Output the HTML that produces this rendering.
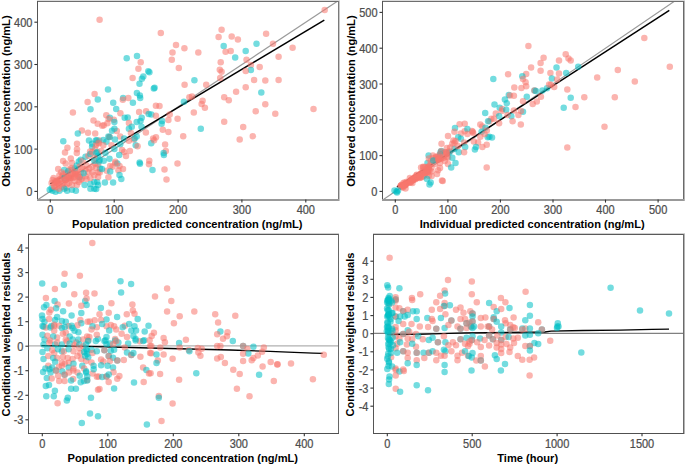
<!DOCTYPE html><html><head><meta charset="utf-8"><style>html,body{margin:0;padding:0;background:#fff;overflow:hidden}svg{display:block}text{font-family:"Liberation Sans",sans-serif}</style></head><body>
<svg width="685" height="464" viewBox="0 0 685 464">
<rect width="685" height="464" fill="#fff"/>
<clipPath id="cp1"><rect x="37.4" y="1.5" width="301.3" height="198.1"/></clipPath>
<g clip-path="url(#cp1)">
<line x1="-13.6" y1="233.7" x2="497.4" y2="-104.7" stroke="#9a9a9a" stroke-width="1.2"/>
<line x1="50.3" y1="183.8" x2="324.3" y2="20.2" stroke="#000" stroke-width="1.5"/>
<circle cx="99.6" cy="19.8" r="3.25" fill="#F8766D" fill-opacity="0.55"/>
<circle cx="126.7" cy="58.2" r="3.25" fill="#00BFC4" fill-opacity="0.55"/>
<circle cx="160.8" cy="32.9" r="3.25" fill="#F8766D" fill-opacity="0.55"/>
<circle cx="176" cy="45" r="3.25" fill="#F8766D" fill-opacity="0.55"/>
<circle cx="184.4" cy="48.3" r="3.25" fill="#F8766D" fill-opacity="0.55"/>
<circle cx="172.5" cy="52.5" r="3.25" fill="#F8766D" fill-opacity="0.55"/>
<circle cx="198.3" cy="52.5" r="3.25" fill="#F8766D" fill-opacity="0.55"/>
<circle cx="171.8" cy="59.7" r="3.25" fill="#F8766D" fill-opacity="0.55"/>
<circle cx="178.8" cy="67.9" r="3.25" fill="#F8766D" fill-opacity="0.55"/>
<circle cx="137" cy="56" r="3.25" fill="#00BFC4" fill-opacity="0.55"/>
<circle cx="140.7" cy="62.2" r="3.25" fill="#F8766D" fill-opacity="0.55"/>
<circle cx="138.4" cy="68.7" r="3.25" fill="#F8766D" fill-opacity="0.55"/>
<circle cx="149.4" cy="72.2" r="3.25" fill="#00BFC4" fill-opacity="0.55"/>
<circle cx="143.3" cy="76.5" r="3.25" fill="#00BFC4" fill-opacity="0.55"/>
<circle cx="132.6" cy="77.9" r="3.25" fill="#F8766D" fill-opacity="0.55"/>
<circle cx="141.9" cy="78.8" r="3.25" fill="#00BFC4" fill-opacity="0.55"/>
<circle cx="194.4" cy="80.2" r="3.25" fill="#00BFC4" fill-opacity="0.55"/>
<circle cx="221.6" cy="29.8" r="3.25" fill="#F8766D" fill-opacity="0.55"/>
<circle cx="218.6" cy="37.1" r="3.25" fill="#F8766D" fill-opacity="0.55"/>
<circle cx="231.7" cy="36.6" r="3.25" fill="#F8766D" fill-opacity="0.55"/>
<circle cx="237.9" cy="39.4" r="3.25" fill="#F8766D" fill-opacity="0.55"/>
<circle cx="223.7" cy="45.9" r="3.25" fill="#00BFC4" fill-opacity="0.55"/>
<circle cx="225.6" cy="51.8" r="3.25" fill="#F8766D" fill-opacity="0.55"/>
<circle cx="230.7" cy="51.1" r="3.25" fill="#F8766D" fill-opacity="0.55"/>
<circle cx="235.2" cy="57.4" r="3.25" fill="#00BFC4" fill-opacity="0.55"/>
<circle cx="220.7" cy="62.2" r="3.25" fill="#F8766D" fill-opacity="0.55"/>
<circle cx="219.8" cy="69.7" r="3.25" fill="#F8766D" fill-opacity="0.55"/>
<circle cx="221.6" cy="71.8" r="3.25" fill="#F8766D" fill-opacity="0.55"/>
<circle cx="220.2" cy="77.9" r="3.25" fill="#F8766D" fill-opacity="0.55"/>
<circle cx="324.7" cy="10" r="3.25" fill="#F8766D" fill-opacity="0.55"/>
<circle cx="266.1" cy="33.7" r="3.25" fill="#F8766D" fill-opacity="0.55"/>
<circle cx="256.5" cy="43.7" r="3.25" fill="#00BFC4" fill-opacity="0.55"/>
<circle cx="273" cy="43.7" r="3.25" fill="#F8766D" fill-opacity="0.55"/>
<circle cx="292.6" cy="47.8" r="3.25" fill="#F8766D" fill-opacity="0.55"/>
<circle cx="245.7" cy="51" r="3.25" fill="#00BFC4" fill-opacity="0.55"/>
<circle cx="246.5" cy="59.7" r="3.25" fill="#F8766D" fill-opacity="0.55"/>
<circle cx="278.6" cy="56.8" r="3.25" fill="#F8766D" fill-opacity="0.55"/>
<circle cx="250.9" cy="65" r="3.25" fill="#F8766D" fill-opacity="0.55"/>
<circle cx="259.7" cy="67.1" r="3.25" fill="#F8766D" fill-opacity="0.55"/>
<circle cx="250.9" cy="70" r="3.25" fill="#00BFC4" fill-opacity="0.55"/>
<circle cx="245.7" cy="70.9" r="3.25" fill="#F8766D" fill-opacity="0.55"/>
<circle cx="254.1" cy="80" r="3.25" fill="#F8766D" fill-opacity="0.55"/>
<circle cx="265.3" cy="80.4" r="3.25" fill="#F8766D" fill-opacity="0.55"/>
<circle cx="278.6" cy="80" r="3.25" fill="#F8766D" fill-opacity="0.55"/>
<circle cx="245.7" cy="87.3" r="3.25" fill="#F8766D" fill-opacity="0.55"/>
<circle cx="236.1" cy="91.7" r="3.25" fill="#F8766D" fill-opacity="0.55"/>
<circle cx="261.3" cy="92.5" r="3.25" fill="#00BFC4" fill-opacity="0.55"/>
<circle cx="265.3" cy="104.2" r="3.25" fill="#F8766D" fill-opacity="0.55"/>
<circle cx="255.7" cy="111.3" r="3.25" fill="#F8766D" fill-opacity="0.55"/>
<circle cx="275.3" cy="113.8" r="3.25" fill="#F8766D" fill-opacity="0.55"/>
<circle cx="313.5" cy="109" r="3.25" fill="#F8766D" fill-opacity="0.55"/>
<circle cx="243.2" cy="127" r="3.25" fill="#F8766D" fill-opacity="0.55"/>
<circle cx="252.8" cy="136.3" r="3.25" fill="#F8766D" fill-opacity="0.55"/>
<circle cx="154.6" cy="87.7" r="3.25" fill="#00BFC4" fill-opacity="0.55"/>
<circle cx="184.6" cy="84.7" r="3.25" fill="#F8766D" fill-opacity="0.55"/>
<circle cx="206.2" cy="84.7" r="3.25" fill="#F8766D" fill-opacity="0.55"/>
<circle cx="224.2" cy="97.3" r="3.25" fill="#F8766D" fill-opacity="0.55"/>
<circle cx="228.8" cy="100.2" r="3.25" fill="#F8766D" fill-opacity="0.55"/>
<circle cx="189.4" cy="97.3" r="3.25" fill="#F8766D" fill-opacity="0.55"/>
<circle cx="192" cy="96.5" r="3.25" fill="#F8766D" fill-opacity="0.55"/>
<circle cx="183.9" cy="101.7" r="3.25" fill="#00BFC4" fill-opacity="0.55"/>
<circle cx="202.6" cy="100.8" r="3.25" fill="#F8766D" fill-opacity="0.55"/>
<circle cx="201.6" cy="104.1" r="3.25" fill="#F8766D" fill-opacity="0.55"/>
<circle cx="204.9" cy="107.8" r="3.25" fill="#F8766D" fill-opacity="0.55"/>
<circle cx="155.9" cy="105.7" r="3.25" fill="#F8766D" fill-opacity="0.55"/>
<circle cx="159.5" cy="106.1" r="3.25" fill="#F8766D" fill-opacity="0.55"/>
<circle cx="193.8" cy="112.6" r="3.25" fill="#F8766D" fill-opacity="0.55"/>
<circle cx="169.7" cy="114.4" r="3.25" fill="#F8766D" fill-opacity="0.55"/>
<circle cx="151.3" cy="114.4" r="3.25" fill="#00BFC4" fill-opacity="0.55"/>
<circle cx="155.9" cy="115.7" r="3.25" fill="#F8766D" fill-opacity="0.55"/>
<circle cx="177.6" cy="118.8" r="3.25" fill="#F8766D" fill-opacity="0.55"/>
<circle cx="168.4" cy="120.1" r="3.25" fill="#F8766D" fill-opacity="0.55"/>
<circle cx="162.1" cy="120.9" r="3.25" fill="#00BFC4" fill-opacity="0.55"/>
<circle cx="161.6" cy="123.8" r="3.25" fill="#00BFC4" fill-opacity="0.55"/>
<circle cx="224.2" cy="121.8" r="3.25" fill="#F8766D" fill-opacity="0.55"/>
<circle cx="139.5" cy="83.7" r="3.25" fill="#00BFC4" fill-opacity="0.55"/>
<circle cx="108" cy="89.6" r="3.25" fill="#00BFC4" fill-opacity="0.55"/>
<circle cx="94.6" cy="93.9" r="3.25" fill="#F8766D" fill-opacity="0.55"/>
<circle cx="97.8" cy="99.4" r="3.25" fill="#00BFC4" fill-opacity="0.55"/>
<circle cx="87.6" cy="102" r="3.25" fill="#F8766D" fill-opacity="0.55"/>
<circle cx="90.5" cy="109.3" r="3.25" fill="#00BFC4" fill-opacity="0.55"/>
<circle cx="72.9" cy="112.6" r="3.25" fill="#F8766D" fill-opacity="0.55"/>
<circle cx="113.2" cy="102.7" r="3.25" fill="#00BFC4" fill-opacity="0.55"/>
<circle cx="123.1" cy="98.1" r="3.25" fill="#00BFC4" fill-opacity="0.55"/>
<circle cx="122.8" cy="99.7" r="3.25" fill="#F8766D" fill-opacity="0.55"/>
<circle cx="128.3" cy="98.1" r="3.25" fill="#F8766D" fill-opacity="0.55"/>
<circle cx="132.9" cy="102.7" r="3.25" fill="#00BFC4" fill-opacity="0.55"/>
<circle cx="136.9" cy="92.9" r="3.25" fill="#00BFC4" fill-opacity="0.55"/>
<circle cx="139.9" cy="95.5" r="3.25" fill="#00BFC4" fill-opacity="0.55"/>
<circle cx="140.2" cy="98.1" r="3.25" fill="#00BFC4" fill-opacity="0.55"/>
<circle cx="116.2" cy="108.9" r="3.25" fill="#00BFC4" fill-opacity="0.55"/>
<circle cx="120.4" cy="113.2" r="3.25" fill="#F8766D" fill-opacity="0.55"/>
<circle cx="139.1" cy="111.9" r="3.25" fill="#F8766D" fill-opacity="0.55"/>
<circle cx="146.1" cy="111.2" r="3.25" fill="#F8766D" fill-opacity="0.55"/>
<circle cx="148.7" cy="113.9" r="3.25" fill="#00BFC4" fill-opacity="0.55"/>
<circle cx="106.3" cy="115.2" r="3.25" fill="#F8766D" fill-opacity="0.55"/>
<circle cx="109.9" cy="117.8" r="3.25" fill="#00BFC4" fill-opacity="0.55"/>
<circle cx="108.6" cy="119.1" r="3.25" fill="#F8766D" fill-opacity="0.55"/>
<circle cx="113.9" cy="119.8" r="3.25" fill="#F8766D" fill-opacity="0.55"/>
<circle cx="124.7" cy="117.8" r="3.25" fill="#00BFC4" fill-opacity="0.55"/>
<circle cx="127.7" cy="117.6" r="3.25" fill="#00BFC4" fill-opacity="0.55"/>
<circle cx="141.7" cy="117.8" r="3.25" fill="#00BFC4" fill-opacity="0.55"/>
<circle cx="93.5" cy="120.4" r="3.25" fill="#F8766D" fill-opacity="0.55"/>
<circle cx="97.7" cy="123.8" r="3.25" fill="#F8766D" fill-opacity="0.55"/>
<circle cx="102.3" cy="125.8" r="3.25" fill="#F8766D" fill-opacity="0.55"/>
<circle cx="103.8" cy="125.3" r="3.25" fill="#F8766D" fill-opacity="0.55"/>
<circle cx="107.4" cy="123.3" r="3.25" fill="#F8766D" fill-opacity="0.55"/>
<circle cx="81.9" cy="130.4" r="3.25" fill="#F8766D" fill-opacity="0.55"/>
<circle cx="77.8" cy="133.5" r="3.25" fill="#00BFC4" fill-opacity="0.55"/>
<circle cx="88" cy="132.7" r="3.25" fill="#F8766D" fill-opacity="0.55"/>
<circle cx="95.2" cy="133.5" r="3.25" fill="#F8766D" fill-opacity="0.55"/>
<circle cx="63.3" cy="141.2" r="3.25" fill="#00BFC4" fill-opacity="0.55"/>
<circle cx="77" cy="143.7" r="3.25" fill="#F8766D" fill-opacity="0.55"/>
<circle cx="67.4" cy="147.8" r="3.25" fill="#F8766D" fill-opacity="0.55"/>
<circle cx="77" cy="149.3" r="3.25" fill="#F8766D" fill-opacity="0.55"/>
<circle cx="65" cy="152.4" r="3.25" fill="#F8766D" fill-opacity="0.55"/>
<circle cx="76.8" cy="152.9" r="3.25" fill="#F8766D" fill-opacity="0.55"/>
<circle cx="89" cy="140.6" r="3.25" fill="#00BFC4" fill-opacity="0.55"/>
<circle cx="92.1" cy="143.7" r="3.25" fill="#00BFC4" fill-opacity="0.55"/>
<circle cx="95.7" cy="140.6" r="3.25" fill="#00BFC4" fill-opacity="0.55"/>
<circle cx="97.7" cy="142.7" r="3.25" fill="#F8766D" fill-opacity="0.55"/>
<circle cx="99.2" cy="140.6" r="3.25" fill="#F8766D" fill-opacity="0.55"/>
<circle cx="103.3" cy="140.1" r="3.25" fill="#00BFC4" fill-opacity="0.55"/>
<circle cx="106.4" cy="141.7" r="3.25" fill="#00BFC4" fill-opacity="0.55"/>
<circle cx="103.3" cy="145.2" r="3.25" fill="#F8766D" fill-opacity="0.55"/>
<circle cx="108.4" cy="136.6" r="3.25" fill="#00BFC4" fill-opacity="0.55"/>
<circle cx="109.5" cy="137.1" r="3.25" fill="#F8766D" fill-opacity="0.55"/>
<circle cx="92.1" cy="146.8" r="3.25" fill="#00BFC4" fill-opacity="0.55"/>
<circle cx="96.2" cy="144.7" r="3.25" fill="#F8766D" fill-opacity="0.55"/>
<circle cx="95.2" cy="148.8" r="3.25" fill="#F8766D" fill-opacity="0.55"/>
<circle cx="90.1" cy="151.4" r="3.25" fill="#F8766D" fill-opacity="0.55"/>
<circle cx="97.2" cy="151.9" r="3.25" fill="#00BFC4" fill-opacity="0.55"/>
<circle cx="101.3" cy="150.9" r="3.25" fill="#F8766D" fill-opacity="0.55"/>
<circle cx="105.4" cy="152.9" r="3.25" fill="#00BFC4" fill-opacity="0.55"/>
<circle cx="63.1" cy="160.9" r="3.25" fill="#F8766D" fill-opacity="0.55"/>
<circle cx="70.8" cy="158.5" r="3.25" fill="#F8766D" fill-opacity="0.55"/>
<circle cx="65.7" cy="163.6" r="3.25" fill="#F8766D" fill-opacity="0.55"/>
<circle cx="72" cy="163.1" r="3.25" fill="#F8766D" fill-opacity="0.55"/>
<circle cx="58.2" cy="168.9" r="3.25" fill="#F8766D" fill-opacity="0.55"/>
<circle cx="64.2" cy="169.9" r="3.25" fill="#00BFC4" fill-opacity="0.55"/>
<circle cx="49.7" cy="189.7" r="3.25" fill="#00BFC4" fill-opacity="0.55"/>
<circle cx="52.6" cy="190.7" r="3.25" fill="#00BFC4" fill-opacity="0.55"/>
<circle cx="55.5" cy="191.7" r="3.25" fill="#00BFC4" fill-opacity="0.55"/>
<circle cx="59.4" cy="190.7" r="3.25" fill="#00BFC4" fill-opacity="0.55"/>
<circle cx="51.6" cy="188.3" r="3.25" fill="#00BFC4" fill-opacity="0.55"/>
<circle cx="54.5" cy="183" r="3.25" fill="#F8766D" fill-opacity="0.55"/>
<circle cx="52.6" cy="180" r="3.25" fill="#F8766D" fill-opacity="0.55"/>
<circle cx="57.4" cy="181" r="3.25" fill="#F8766D" fill-opacity="0.55"/>
<circle cx="59.4" cy="184.9" r="3.25" fill="#F8766D" fill-opacity="0.55"/>
<circle cx="63.3" cy="183" r="3.25" fill="#F8766D" fill-opacity="0.55"/>
<circle cx="62.3" cy="186.8" r="3.25" fill="#F8766D" fill-opacity="0.55"/>
<circle cx="56.5" cy="186.8" r="3.25" fill="#F8766D" fill-opacity="0.55"/>
<circle cx="66.2" cy="187.8" r="3.25" fill="#F8766D" fill-opacity="0.55"/>
<circle cx="67.1" cy="183.9" r="3.25" fill="#F8766D" fill-opacity="0.55"/>
<circle cx="70" cy="179.1" r="3.25" fill="#F8766D" fill-opacity="0.55"/>
<circle cx="72.9" cy="178.1" r="3.25" fill="#F8766D" fill-opacity="0.55"/>
<circle cx="74.9" cy="181" r="3.25" fill="#F8766D" fill-opacity="0.55"/>
<circle cx="69.1" cy="183" r="3.25" fill="#F8766D" fill-opacity="0.55"/>
<circle cx="63.3" cy="174.2" r="3.25" fill="#F8766D" fill-opacity="0.55"/>
<circle cx="66.2" cy="173.3" r="3.25" fill="#F8766D" fill-opacity="0.55"/>
<circle cx="72.9" cy="173.3" r="3.25" fill="#F8766D" fill-opacity="0.55"/>
<circle cx="72" cy="169.4" r="3.25" fill="#F8766D" fill-opacity="0.55"/>
<circle cx="76.8" cy="171.3" r="3.25" fill="#F8766D" fill-opacity="0.55"/>
<circle cx="80.7" cy="172.3" r="3.25" fill="#F8766D" fill-opacity="0.55"/>
<circle cx="82.6" cy="168.4" r="3.25" fill="#F8766D" fill-opacity="0.55"/>
<circle cx="86.5" cy="165.5" r="3.25" fill="#F8766D" fill-opacity="0.55"/>
<circle cx="85.5" cy="169.4" r="3.25" fill="#F8766D" fill-opacity="0.55"/>
<circle cx="89.4" cy="168.4" r="3.25" fill="#F8766D" fill-opacity="0.55"/>
<circle cx="92.3" cy="166.5" r="3.25" fill="#F8766D" fill-opacity="0.55"/>
<circle cx="95.2" cy="163.6" r="3.25" fill="#F8766D" fill-opacity="0.55"/>
<circle cx="98.1" cy="164.5" r="3.25" fill="#F8766D" fill-opacity="0.55"/>
<circle cx="88.4" cy="172.3" r="3.25" fill="#F8766D" fill-opacity="0.55"/>
<circle cx="92.3" cy="172.3" r="3.25" fill="#F8766D" fill-opacity="0.55"/>
<circle cx="85.5" cy="176.2" r="3.25" fill="#F8766D" fill-opacity="0.55"/>
<circle cx="86.5" cy="179.1" r="3.25" fill="#F8766D" fill-opacity="0.55"/>
<circle cx="80.7" cy="180" r="3.25" fill="#F8766D" fill-opacity="0.55"/>
<circle cx="79.7" cy="177.1" r="3.25" fill="#00BFC4" fill-opacity="0.55"/>
<circle cx="81.7" cy="179.1" r="3.25" fill="#F8766D" fill-opacity="0.55"/>
<circle cx="78.8" cy="182" r="3.25" fill="#F8766D" fill-opacity="0.55"/>
<circle cx="76.8" cy="184.9" r="3.25" fill="#F8766D" fill-opacity="0.55"/>
<circle cx="84.6" cy="184.9" r="3.25" fill="#00BFC4" fill-opacity="0.55"/>
<circle cx="90.4" cy="183.9" r="3.25" fill="#00BFC4" fill-opacity="0.55"/>
<circle cx="94.3" cy="182" r="3.25" fill="#00BFC4" fill-opacity="0.55"/>
<circle cx="97.2" cy="182" r="3.25" fill="#00BFC4" fill-opacity="0.55"/>
<circle cx="98.1" cy="184.9" r="3.25" fill="#00BFC4" fill-opacity="0.55"/>
<circle cx="90.4" cy="188.8" r="3.25" fill="#00BFC4" fill-opacity="0.55"/>
<circle cx="94.3" cy="188.8" r="3.25" fill="#00BFC4" fill-opacity="0.55"/>
<circle cx="72" cy="189.7" r="3.25" fill="#00BFC4" fill-opacity="0.55"/>
<circle cx="75.9" cy="190.7" r="3.25" fill="#00BFC4" fill-opacity="0.55"/>
<circle cx="67.1" cy="190.7" r="3.25" fill="#00BFC4" fill-opacity="0.55"/>
<circle cx="64.2" cy="188.8" r="3.25" fill="#00BFC4" fill-opacity="0.55"/>
<circle cx="72" cy="184.9" r="3.25" fill="#F8766D" fill-opacity="0.55"/>
<circle cx="78.8" cy="161.6" r="3.25" fill="#00BFC4" fill-opacity="0.55"/>
<circle cx="80.7" cy="159.7" r="3.25" fill="#00BFC4" fill-opacity="0.55"/>
<circle cx="82.6" cy="160.7" r="3.25" fill="#F8766D" fill-opacity="0.55"/>
<circle cx="85.5" cy="156.8" r="3.25" fill="#00BFC4" fill-opacity="0.55"/>
<circle cx="88.4" cy="155.8" r="3.25" fill="#F8766D" fill-opacity="0.55"/>
<circle cx="90.4" cy="153.9" r="3.25" fill="#00BFC4" fill-opacity="0.55"/>
<circle cx="92.3" cy="151.9" r="3.25" fill="#F8766D" fill-opacity="0.55"/>
<circle cx="96.2" cy="152.9" r="3.25" fill="#00BFC4" fill-opacity="0.55"/>
<circle cx="98.1" cy="155.8" r="3.25" fill="#00BFC4" fill-opacity="0.55"/>
<circle cx="94.3" cy="157.8" r="3.25" fill="#F8766D" fill-opacity="0.55"/>
<circle cx="94.3" cy="160.7" r="3.25" fill="#00BFC4" fill-opacity="0.55"/>
<circle cx="99.1" cy="161.6" r="3.25" fill="#00BFC4" fill-opacity="0.55"/>
<circle cx="76.8" cy="165.5" r="3.25" fill="#00BFC4" fill-opacity="0.55"/>
<circle cx="79.7" cy="166.5" r="3.25" fill="#F8766D" fill-opacity="0.55"/>
<circle cx="74.9" cy="168.4" r="3.25" fill="#00BFC4" fill-opacity="0.55"/>
<circle cx="69.1" cy="169.4" r="3.25" fill="#F8766D" fill-opacity="0.55"/>
<circle cx="68.1" cy="171.3" r="3.25" fill="#00BFC4" fill-opacity="0.55"/>
<circle cx="61.3" cy="172.3" r="3.25" fill="#F8766D" fill-opacity="0.55"/>
<circle cx="62.3" cy="176.2" r="3.25" fill="#F8766D" fill-opacity="0.55"/>
<circle cx="59.4" cy="175.2" r="3.25" fill="#F8766D" fill-opacity="0.55"/>
<circle cx="64.2" cy="178.1" r="3.25" fill="#00BFC4" fill-opacity="0.55"/>
<circle cx="60.3" cy="179.1" r="3.25" fill="#F8766D" fill-opacity="0.55"/>
<circle cx="53.6" cy="178.1" r="3.25" fill="#F8766D" fill-opacity="0.55"/>
<circle cx="51.6" cy="183" r="3.25" fill="#F8766D" fill-opacity="0.55"/>
<circle cx="98.1" cy="172.3" r="3.25" fill="#F8766D" fill-opacity="0.55"/>
<circle cx="98.1" cy="177.1" r="3.25" fill="#F8766D" fill-opacity="0.55"/>
<circle cx="100.1" cy="168.4" r="3.25" fill="#00BFC4" fill-opacity="0.55"/>
<circle cx="90.4" cy="178.1" r="3.25" fill="#F8766D" fill-opacity="0.55"/>
<circle cx="94.3" cy="175.2" r="3.25" fill="#F8766D" fill-opacity="0.55"/>
<circle cx="83.6" cy="173.3" r="3.25" fill="#00BFC4" fill-opacity="0.55"/>
<circle cx="114.4" cy="121.9" r="3.25" fill="#00BFC4" fill-opacity="0.55"/>
<circle cx="128.9" cy="122.9" r="3.25" fill="#F8766D" fill-opacity="0.55"/>
<circle cx="136.7" cy="121.9" r="3.25" fill="#00BFC4" fill-opacity="0.55"/>
<circle cx="140.5" cy="121" r="3.25" fill="#00BFC4" fill-opacity="0.55"/>
<circle cx="131.8" cy="126.8" r="3.25" fill="#00BFC4" fill-opacity="0.55"/>
<circle cx="128.9" cy="128.7" r="3.25" fill="#00BFC4" fill-opacity="0.55"/>
<circle cx="141.5" cy="126.8" r="3.25" fill="#00BFC4" fill-opacity="0.55"/>
<circle cx="112" cy="130.7" r="3.25" fill="#00BFC4" fill-opacity="0.55"/>
<circle cx="116.8" cy="131.1" r="3.25" fill="#F8766D" fill-opacity="0.55"/>
<circle cx="114.4" cy="128.7" r="3.25" fill="#00BFC4" fill-opacity="0.55"/>
<circle cx="130.9" cy="133.1" r="3.25" fill="#F8766D" fill-opacity="0.55"/>
<circle cx="145.9" cy="132.6" r="3.25" fill="#F8766D" fill-opacity="0.55"/>
<circle cx="109.5" cy="137" r="3.25" fill="#00BFC4" fill-opacity="0.55"/>
<circle cx="120.2" cy="136.5" r="3.25" fill="#F8766D" fill-opacity="0.55"/>
<circle cx="114.9" cy="139.4" r="3.25" fill="#00BFC4" fill-opacity="0.55"/>
<circle cx="124.1" cy="138.4" r="3.25" fill="#00BFC4" fill-opacity="0.55"/>
<circle cx="136.7" cy="136.5" r="3.25" fill="#00BFC4" fill-opacity="0.55"/>
<circle cx="133.8" cy="139.4" r="3.25" fill="#F8766D" fill-opacity="0.55"/>
<circle cx="128.9" cy="140.8" r="3.25" fill="#F8766D" fill-opacity="0.55"/>
<circle cx="134.7" cy="138.4" r="3.25" fill="#00BFC4" fill-opacity="0.55"/>
<circle cx="153.1" cy="138.4" r="3.25" fill="#F8766D" fill-opacity="0.55"/>
<circle cx="151.2" cy="143.3" r="3.25" fill="#00BFC4" fill-opacity="0.55"/>
<circle cx="154.1" cy="140.3" r="3.25" fill="#F8766D" fill-opacity="0.55"/>
<circle cx="96.9" cy="140.3" r="3.25" fill="#00BFC4" fill-opacity="0.55"/>
<circle cx="98.9" cy="143.3" r="3.25" fill="#F8766D" fill-opacity="0.55"/>
<circle cx="120.2" cy="144.2" r="3.25" fill="#00BFC4" fill-opacity="0.55"/>
<circle cx="111.5" cy="145.2" r="3.25" fill="#F8766D" fill-opacity="0.55"/>
<circle cx="135.7" cy="145.2" r="3.25" fill="#00BFC4" fill-opacity="0.55"/>
<circle cx="137.6" cy="146.2" r="3.25" fill="#F8766D" fill-opacity="0.55"/>
<circle cx="114.4" cy="149.1" r="3.25" fill="#00BFC4" fill-opacity="0.55"/>
<circle cx="122.1" cy="150" r="3.25" fill="#F8766D" fill-opacity="0.55"/>
<circle cx="124.1" cy="152" r="3.25" fill="#F8766D" fill-opacity="0.55"/>
<circle cx="129.9" cy="151" r="3.25" fill="#F8766D" fill-opacity="0.55"/>
<circle cx="126" cy="155.9" r="3.25" fill="#F8766D" fill-opacity="0.55"/>
<circle cx="119.2" cy="154.9" r="3.25" fill="#00BFC4" fill-opacity="0.55"/>
<circle cx="109.5" cy="158.8" r="3.25" fill="#00BFC4" fill-opacity="0.55"/>
<circle cx="103.7" cy="160.7" r="3.25" fill="#00BFC4" fill-opacity="0.55"/>
<circle cx="139.6" cy="162.6" r="3.25" fill="#00BFC4" fill-opacity="0.55"/>
<circle cx="149.3" cy="160.7" r="3.25" fill="#F8766D" fill-opacity="0.55"/>
<circle cx="115.3" cy="161.7" r="3.25" fill="#F8766D" fill-opacity="0.55"/>
<circle cx="117.3" cy="163.6" r="3.25" fill="#00BFC4" fill-opacity="0.55"/>
<circle cx="99.7" cy="159.7" r="3.25" fill="#00BFC4" fill-opacity="0.55"/>
<circle cx="115.4" cy="163.2" r="3.25" fill="#F8766D" fill-opacity="0.55"/>
<circle cx="112.5" cy="166.7" r="3.25" fill="#F8766D" fill-opacity="0.55"/>
<circle cx="110.2" cy="166.1" r="3.25" fill="#F8766D" fill-opacity="0.55"/>
<circle cx="119.5" cy="166.1" r="3.25" fill="#F8766D" fill-opacity="0.55"/>
<circle cx="123" cy="169" r="3.25" fill="#F8766D" fill-opacity="0.55"/>
<circle cx="118.4" cy="170.2" r="3.25" fill="#F8766D" fill-opacity="0.55"/>
<circle cx="106.7" cy="170.8" r="3.25" fill="#F8766D" fill-opacity="0.55"/>
<circle cx="99.7" cy="172.5" r="3.25" fill="#F8766D" fill-opacity="0.55"/>
<circle cx="96.2" cy="167.8" r="3.25" fill="#F8766D" fill-opacity="0.55"/>
<circle cx="102" cy="169" r="3.25" fill="#00BFC4" fill-opacity="0.55"/>
<circle cx="110.2" cy="171.4" r="3.25" fill="#00BFC4" fill-opacity="0.55"/>
<circle cx="119.5" cy="174.9" r="3.25" fill="#00BFC4" fill-opacity="0.55"/>
<circle cx="108.4" cy="177.2" r="3.25" fill="#F8766D" fill-opacity="0.55"/>
<circle cx="121.3" cy="179" r="3.25" fill="#00BFC4" fill-opacity="0.55"/>
<circle cx="104.9" cy="182.5" r="3.25" fill="#00BFC4" fill-opacity="0.55"/>
<circle cx="113.1" cy="182.5" r="3.25" fill="#00BFC4" fill-opacity="0.55"/>
<circle cx="96.2" cy="188.9" r="3.25" fill="#00BFC4" fill-opacity="0.55"/>
<circle cx="140" cy="163.8" r="3.25" fill="#00BFC4" fill-opacity="0.55"/>
<circle cx="149" cy="164.3" r="3.25" fill="#F8766D" fill-opacity="0.55"/>
<circle cx="152.5" cy="170" r="3.25" fill="#00BFC4" fill-opacity="0.55"/>
<circle cx="164.5" cy="169.6" r="3.25" fill="#F8766D" fill-opacity="0.55"/>
<circle cx="166.5" cy="179.5" r="3.25" fill="#F8766D" fill-opacity="0.55"/>
<circle cx="163.9" cy="155" r="3.25" fill="#00BFC4" fill-opacity="0.55"/>
<circle cx="200.8" cy="128.7" r="3.25" fill="#00BFC4" fill-opacity="0.55"/>
<circle cx="162.8" cy="129.8" r="3.25" fill="#F8766D" fill-opacity="0.55"/>
<circle cx="168.4" cy="132.1" r="3.25" fill="#F8766D" fill-opacity="0.55"/>
<circle cx="183.2" cy="136.3" r="3.25" fill="#F8766D" fill-opacity="0.55"/>
<circle cx="156" cy="137.3" r="3.25" fill="#F8766D" fill-opacity="0.55"/>
<circle cx="239.7" cy="139.6" r="3.25" fill="#F8766D" fill-opacity="0.55"/>
<circle cx="165.1" cy="144.4" r="3.25" fill="#F8766D" fill-opacity="0.55"/>
<circle cx="165.8" cy="150.9" r="3.25" fill="#F8766D" fill-opacity="0.55"/>
<circle cx="163.6" cy="152.9" r="3.25" fill="#00BFC4" fill-opacity="0.55"/>
<circle cx="177.5" cy="163.4" r="3.25" fill="#F8766D" fill-opacity="0.55"/>
<circle cx="69.1" cy="178" r="3.25" fill="#F8766D" fill-opacity="0.55"/>
<circle cx="78.9" cy="177.3" r="3.25" fill="#F8766D" fill-opacity="0.55"/>
<circle cx="71.5" cy="175.7" r="3.25" fill="#F8766D" fill-opacity="0.55"/>
<circle cx="65.3" cy="180.2" r="3.25" fill="#F8766D" fill-opacity="0.55"/>
<circle cx="78.3" cy="176.2" r="3.25" fill="#F8766D" fill-opacity="0.55"/>
<circle cx="59" cy="188.8" r="3.25" fill="#F8766D" fill-opacity="0.55"/>
<circle cx="65.2" cy="179.9" r="3.25" fill="#F8766D" fill-opacity="0.55"/>
<circle cx="66.1" cy="175.7" r="3.25" fill="#F8766D" fill-opacity="0.55"/>
<circle cx="54.1" cy="185.9" r="3.25" fill="#F8766D" fill-opacity="0.55"/>
<circle cx="75" cy="171.9" r="3.25" fill="#F8766D" fill-opacity="0.55"/>
<circle cx="71.1" cy="173.6" r="3.25" fill="#F8766D" fill-opacity="0.55"/>
<circle cx="55.4" cy="181.2" r="3.25" fill="#F8766D" fill-opacity="0.55"/>
<circle cx="68.8" cy="177.8" r="3.25" fill="#F8766D" fill-opacity="0.55"/>
<circle cx="74.9" cy="174.2" r="3.25" fill="#F8766D" fill-opacity="0.55"/>
<circle cx="58.2" cy="182.2" r="3.25" fill="#F8766D" fill-opacity="0.55"/>
<circle cx="71.3" cy="168.1" r="3.25" fill="#F8766D" fill-opacity="0.55"/>
<circle cx="59.4" cy="179.7" r="3.25" fill="#F8766D" fill-opacity="0.55"/>
<circle cx="70.7" cy="177.7" r="3.25" fill="#F8766D" fill-opacity="0.55"/>
<circle cx="57" cy="180.4" r="3.25" fill="#F8766D" fill-opacity="0.55"/>
<circle cx="77.9" cy="174.2" r="3.25" fill="#F8766D" fill-opacity="0.55"/>
<circle cx="75.8" cy="174.6" r="3.25" fill="#F8766D" fill-opacity="0.55"/>
<circle cx="56.8" cy="182.1" r="3.25" fill="#F8766D" fill-opacity="0.55"/>
<circle cx="56.5" cy="182.7" r="3.25" fill="#F8766D" fill-opacity="0.55"/>
<circle cx="68" cy="177.3" r="3.25" fill="#F8766D" fill-opacity="0.55"/>
<circle cx="54.6" cy="187.3" r="3.25" fill="#F8766D" fill-opacity="0.55"/>
<circle cx="62.5" cy="184" r="3.25" fill="#F8766D" fill-opacity="0.55"/>
<circle cx="74.8" cy="177" r="3.25" fill="#F8766D" fill-opacity="0.55"/>
<circle cx="65.4" cy="179.5" r="3.25" fill="#F8766D" fill-opacity="0.55"/>
<circle cx="153.8" cy="88.5" r="3.25" fill="#00BFC4" fill-opacity="0.55"/>
<circle cx="148.3" cy="71.2" r="3.25" fill="#00BFC4" fill-opacity="0.55"/>
</g>
<rect x="37" y="0" width="303" height="1" fill="#dcdcdc" shape-rendering="crispEdges"/>
<rect x="37" y="1" width="302" height="1" fill="#6e6e6e" shape-rendering="crispEdges"/>
<rect x="37" y="1" width="1" height="200" fill="#555" shape-rendering="crispEdges"/>
<rect x="338" y="1" width="1" height="200" fill="#7a7a7a" shape-rendering="crispEdges"/>
<rect x="339" y="1" width="1" height="200" fill="#c8c8c8" shape-rendering="crispEdges"/>
<rect x="37" y="199" width="302" height="2" fill="#999" shape-rendering="crispEdges"/>
<line x1="50.3" y1="199.6" x2="50.3" y2="202.6" stroke="#333" stroke-width="1.1"/>
<text transform="translate(50.3,214) scale(1,1.08)" font-size="11" fill="#4d4d4d" stroke="#4d4d4d" stroke-width="0.22" text-anchor="middle">0</text>
<line x1="114.2" y1="199.6" x2="114.2" y2="202.6" stroke="#333" stroke-width="1.1"/>
<text transform="translate(114.2,214) scale(1,1.08)" font-size="11" fill="#4d4d4d" stroke="#4d4d4d" stroke-width="0.22" text-anchor="middle">100</text>
<line x1="178.1" y1="199.6" x2="178.1" y2="202.6" stroke="#333" stroke-width="1.1"/>
<text transform="translate(178.1,214) scale(1,1.08)" font-size="11" fill="#4d4d4d" stroke="#4d4d4d" stroke-width="0.22" text-anchor="middle">200</text>
<line x1="241.9" y1="199.6" x2="241.9" y2="202.6" stroke="#333" stroke-width="1.1"/>
<text transform="translate(241.9,214) scale(1,1.08)" font-size="11" fill="#4d4d4d" stroke="#4d4d4d" stroke-width="0.22" text-anchor="middle">300</text>
<line x1="305.8" y1="199.6" x2="305.8" y2="202.6" stroke="#333" stroke-width="1.1"/>
<text transform="translate(305.8,214) scale(1,1.08)" font-size="11" fill="#4d4d4d" stroke="#4d4d4d" stroke-width="0.22" text-anchor="middle">400</text>
<line x1="34.4" y1="191.4" x2="37.4" y2="191.4" stroke="#333" stroke-width="1.1"/>
<text transform="translate(32.4,191.4) scale(1,1.08)" y="4.32" font-size="11" fill="#4d4d4d" stroke="#4d4d4d" stroke-width="0.22" text-anchor="end">0</text>
<line x1="34.4" y1="149.1" x2="37.4" y2="149.1" stroke="#333" stroke-width="1.1"/>
<text transform="translate(32.4,149.1) scale(1,1.08)" y="4.32" font-size="11" fill="#4d4d4d" stroke="#4d4d4d" stroke-width="0.22" text-anchor="end">100</text>
<line x1="34.4" y1="106.8" x2="37.4" y2="106.8" stroke="#333" stroke-width="1.1"/>
<text transform="translate(32.4,106.8) scale(1,1.08)" y="4.32" font-size="11" fill="#4d4d4d" stroke="#4d4d4d" stroke-width="0.22" text-anchor="end">200</text>
<line x1="34.4" y1="64.5" x2="37.4" y2="64.5" stroke="#333" stroke-width="1.1"/>
<text transform="translate(32.4,64.5) scale(1,1.08)" y="4.32" font-size="11" fill="#4d4d4d" stroke="#4d4d4d" stroke-width="0.22" text-anchor="end">300</text>
<line x1="34.4" y1="22.2" x2="37.4" y2="22.2" stroke="#333" stroke-width="1.1"/>
<text transform="translate(32.4,22.2) scale(1,1.08)" y="4.32" font-size="11" fill="#4d4d4d" stroke="#4d4d4d" stroke-width="0.22" text-anchor="end">400</text>
<text x="187.3" y="228.4" font-size="11.1" font-weight="bold" fill="#000" text-anchor="middle">Population predicted concentration (ng/mL)</text>
<text transform="translate(10.3,101.1) rotate(-90)" font-size="11.1" font-weight="bold" fill="#000" text-anchor="middle">Observed concentration (ng/mL)</text>
<clipPath id="cp2"><rect x="382.5" y="1.5" width="300.9" height="198.1"/></clipPath>
<g clip-path="url(#cp2)">
<line x1="342.7" y1="227.2" x2="763.2" y2="-59.2" stroke="#9a9a9a" stroke-width="1.2"/>
<line x1="397" y1="186.8" x2="669.3" y2="10.3" stroke="#000" stroke-width="1.5"/>
<circle cx="644.3" cy="38" r="3.25" fill="#F8766D" fill-opacity="0.55"/>
<circle cx="669.8" cy="66.7" r="3.25" fill="#F8766D" fill-opacity="0.55"/>
<circle cx="617.8" cy="70.1" r="3.25" fill="#F8766D" fill-opacity="0.55"/>
<circle cx="634.8" cy="81.4" r="3.25" fill="#F8766D" fill-opacity="0.55"/>
<circle cx="597.2" cy="77.6" r="3.25" fill="#F8766D" fill-opacity="0.55"/>
<circle cx="614.8" cy="97.3" r="3.25" fill="#F8766D" fill-opacity="0.55"/>
<circle cx="584.3" cy="97.3" r="3.25" fill="#F8766D" fill-opacity="0.55"/>
<circle cx="570.7" cy="97.7" r="3.25" fill="#00BFC4" fill-opacity="0.55"/>
<circle cx="567.3" cy="89.4" r="3.25" fill="#F8766D" fill-opacity="0.55"/>
<circle cx="578.2" cy="66.7" r="3.25" fill="#00BFC4" fill-opacity="0.55"/>
<circle cx="566.2" cy="72.9" r="3.25" fill="#00BFC4" fill-opacity="0.55"/>
<circle cx="565.7" cy="54.3" r="3.25" fill="#F8766D" fill-opacity="0.55"/>
<circle cx="568.5" cy="58.4" r="3.25" fill="#F8766D" fill-opacity="0.55"/>
<circle cx="570.7" cy="60.6" r="3.25" fill="#F8766D" fill-opacity="0.55"/>
<circle cx="559" cy="60.6" r="3.25" fill="#F8766D" fill-opacity="0.55"/>
<circle cx="543.6" cy="57.7" r="3.25" fill="#F8766D" fill-opacity="0.55"/>
<circle cx="540.6" cy="62.9" r="3.25" fill="#F8766D" fill-opacity="0.55"/>
<circle cx="531.1" cy="67.4" r="3.25" fill="#F8766D" fill-opacity="0.55"/>
<circle cx="540.6" cy="70.8" r="3.25" fill="#F8766D" fill-opacity="0.55"/>
<circle cx="556.5" cy="67.4" r="3.25" fill="#00BFC4" fill-opacity="0.55"/>
<circle cx="550.4" cy="72.9" r="3.25" fill="#F8766D" fill-opacity="0.55"/>
<circle cx="559" cy="73.5" r="3.25" fill="#F8766D" fill-opacity="0.55"/>
<circle cx="551.9" cy="78.5" r="3.25" fill="#00BFC4" fill-opacity="0.55"/>
<circle cx="557.1" cy="79.6" r="3.25" fill="#F8766D" fill-opacity="0.55"/>
<circle cx="550.8" cy="84.8" r="3.25" fill="#F8766D" fill-opacity="0.55"/>
<circle cx="554.2" cy="87.1" r="3.25" fill="#F8766D" fill-opacity="0.55"/>
<circle cx="547" cy="88.2" r="3.25" fill="#00BFC4" fill-opacity="0.55"/>
<circle cx="542.4" cy="90.5" r="3.25" fill="#00BFC4" fill-opacity="0.55"/>
<circle cx="534.5" cy="90.5" r="3.25" fill="#00BFC4" fill-opacity="0.55"/>
<circle cx="534.5" cy="90.5" r="3.25" fill="#F8766D" fill-opacity="0.55"/>
<circle cx="540.9" cy="96.8" r="3.25" fill="#F8766D" fill-opacity="0.55"/>
<circle cx="536.8" cy="101.4" r="3.25" fill="#F8766D" fill-opacity="0.55"/>
<circle cx="528.4" cy="46.1" r="3.25" fill="#F8766D" fill-opacity="0.55"/>
<circle cx="508.1" cy="74.2" r="3.25" fill="#F8766D" fill-opacity="0.55"/>
<circle cx="493.3" cy="79.1" r="3.25" fill="#00BFC4" fill-opacity="0.55"/>
<circle cx="526.2" cy="73.9" r="3.25" fill="#F8766D" fill-opacity="0.55"/>
<circle cx="522.3" cy="76.3" r="3.25" fill="#00BFC4" fill-opacity="0.55"/>
<circle cx="523" cy="79.1" r="3.25" fill="#F8766D" fill-opacity="0.55"/>
<circle cx="525.6" cy="82.3" r="3.25" fill="#F8766D" fill-opacity="0.55"/>
<circle cx="526.2" cy="86.2" r="3.25" fill="#F8766D" fill-opacity="0.55"/>
<circle cx="521.4" cy="88.1" r="3.25" fill="#F8766D" fill-opacity="0.55"/>
<circle cx="514.3" cy="87.5" r="3.25" fill="#F8766D" fill-opacity="0.55"/>
<circle cx="535.9" cy="91" r="3.25" fill="#00BFC4" fill-opacity="0.55"/>
<circle cx="549.1" cy="84.5" r="3.25" fill="#F8766D" fill-opacity="0.55"/>
<circle cx="508.8" cy="94.9" r="3.25" fill="#00BFC4" fill-opacity="0.55"/>
<circle cx="510" cy="95.5" r="3.25" fill="#F8766D" fill-opacity="0.55"/>
<circle cx="513.9" cy="95.8" r="3.25" fill="#F8766D" fill-opacity="0.55"/>
<circle cx="526.8" cy="96.8" r="3.25" fill="#00BFC4" fill-opacity="0.55"/>
<circle cx="523" cy="101.3" r="3.25" fill="#F8766D" fill-opacity="0.55"/>
<circle cx="532.7" cy="103.9" r="3.25" fill="#F8766D" fill-opacity="0.55"/>
<circle cx="504.9" cy="99.4" r="3.25" fill="#00BFC4" fill-opacity="0.55"/>
<circle cx="506.8" cy="103.3" r="3.25" fill="#00BFC4" fill-opacity="0.55"/>
<circle cx="494.5" cy="104.5" r="3.25" fill="#00BFC4" fill-opacity="0.55"/>
<circle cx="499.7" cy="107.8" r="3.25" fill="#00BFC4" fill-opacity="0.55"/>
<circle cx="502.3" cy="109.1" r="3.25" fill="#F8766D" fill-opacity="0.55"/>
<circle cx="501.7" cy="111" r="3.25" fill="#F8766D" fill-opacity="0.55"/>
<circle cx="506.2" cy="109.7" r="3.25" fill="#00BFC4" fill-opacity="0.55"/>
<circle cx="523" cy="111.7" r="3.25" fill="#00BFC4" fill-opacity="0.55"/>
<circle cx="521" cy="111" r="3.25" fill="#F8766D" fill-opacity="0.55"/>
<circle cx="513.9" cy="110.4" r="3.25" fill="#F8766D" fill-opacity="0.55"/>
<circle cx="518.4" cy="114.9" r="3.25" fill="#F8766D" fill-opacity="0.55"/>
<circle cx="511.3" cy="116.2" r="3.25" fill="#00BFC4" fill-opacity="0.55"/>
<circle cx="507.5" cy="114.9" r="3.25" fill="#F8766D" fill-opacity="0.55"/>
<circle cx="485.2" cy="112.9" r="3.25" fill="#00BFC4" fill-opacity="0.55"/>
<circle cx="495.8" cy="113.6" r="3.25" fill="#F8766D" fill-opacity="0.55"/>
<circle cx="499.1" cy="116.2" r="3.25" fill="#00BFC4" fill-opacity="0.55"/>
<circle cx="491.3" cy="118.8" r="3.25" fill="#F8766D" fill-opacity="0.55"/>
<circle cx="493.9" cy="118.8" r="3.25" fill="#F8766D" fill-opacity="0.55"/>
<circle cx="489.4" cy="121.3" r="3.25" fill="#F8766D" fill-opacity="0.55"/>
<circle cx="488.1" cy="121.3" r="3.25" fill="#00BFC4" fill-opacity="0.55"/>
<circle cx="499.1" cy="123.3" r="3.25" fill="#F8766D" fill-opacity="0.55"/>
<circle cx="512.6" cy="121.3" r="3.25" fill="#F8766D" fill-opacity="0.55"/>
<circle cx="520.8" cy="124.6" r="3.25" fill="#F8766D" fill-opacity="0.55"/>
<circle cx="480.3" cy="124.6" r="3.25" fill="#F8766D" fill-opacity="0.55"/>
<circle cx="482.3" cy="126.5" r="3.25" fill="#F8766D" fill-opacity="0.55"/>
<circle cx="485.5" cy="127.8" r="3.25" fill="#00BFC4" fill-opacity="0.55"/>
<circle cx="486.8" cy="130.4" r="3.25" fill="#F8766D" fill-opacity="0.55"/>
<circle cx="471.9" cy="131" r="3.25" fill="#F8766D" fill-opacity="0.55"/>
<circle cx="473.2" cy="132.9" r="3.25" fill="#F8766D" fill-opacity="0.55"/>
<circle cx="481.6" cy="131.7" r="3.25" fill="#00BFC4" fill-opacity="0.55"/>
<circle cx="489.4" cy="136.8" r="3.25" fill="#00BFC4" fill-opacity="0.55"/>
<circle cx="492" cy="137.5" r="3.25" fill="#00BFC4" fill-opacity="0.55"/>
<circle cx="480.3" cy="136.8" r="3.25" fill="#F8766D" fill-opacity="0.55"/>
<circle cx="563.7" cy="107.8" r="3.25" fill="#00BFC4" fill-opacity="0.55"/>
<circle cx="575.5" cy="107.1" r="3.25" fill="#F8766D" fill-opacity="0.55"/>
<circle cx="604.5" cy="126.7" r="3.25" fill="#F8766D" fill-opacity="0.55"/>
<circle cx="567.3" cy="147.6" r="3.25" fill="#F8766D" fill-opacity="0.55"/>
<circle cx="459.6" cy="124.3" r="3.25" fill="#F8766D" fill-opacity="0.55"/>
<circle cx="464.7" cy="123.8" r="3.25" fill="#F8766D" fill-opacity="0.55"/>
<circle cx="455" cy="128.1" r="3.25" fill="#00BFC4" fill-opacity="0.55"/>
<circle cx="454.4" cy="131.8" r="3.25" fill="#F8766D" fill-opacity="0.55"/>
<circle cx="460.9" cy="133.5" r="3.25" fill="#F8766D" fill-opacity="0.55"/>
<circle cx="464.7" cy="131.3" r="3.25" fill="#F8766D" fill-opacity="0.55"/>
<circle cx="467.4" cy="129.1" r="3.25" fill="#00BFC4" fill-opacity="0.55"/>
<circle cx="467.4" cy="134" r="3.25" fill="#F8766D" fill-opacity="0.55"/>
<circle cx="472.7" cy="131.8" r="3.25" fill="#F8766D" fill-opacity="0.55"/>
<circle cx="448" cy="136.1" r="3.25" fill="#F8766D" fill-opacity="0.55"/>
<circle cx="458.2" cy="137.2" r="3.25" fill="#00BFC4" fill-opacity="0.55"/>
<circle cx="460.9" cy="138.8" r="3.25" fill="#00BFC4" fill-opacity="0.55"/>
<circle cx="455.5" cy="141" r="3.25" fill="#F8766D" fill-opacity="0.55"/>
<circle cx="453.4" cy="140.5" r="3.25" fill="#F8766D" fill-opacity="0.55"/>
<circle cx="452.3" cy="143.7" r="3.25" fill="#F8766D" fill-opacity="0.55"/>
<circle cx="441.5" cy="143.7" r="3.25" fill="#F8766D" fill-opacity="0.55"/>
<circle cx="464.1" cy="142.6" r="3.25" fill="#F8766D" fill-opacity="0.55"/>
<circle cx="465.2" cy="146.9" r="3.25" fill="#00BFC4" fill-opacity="0.55"/>
<circle cx="473.8" cy="141.5" r="3.25" fill="#F8766D" fill-opacity="0.55"/>
<circle cx="478.1" cy="142.6" r="3.25" fill="#F8766D" fill-opacity="0.55"/>
<circle cx="476" cy="146.9" r="3.25" fill="#00BFC4" fill-opacity="0.55"/>
<circle cx="474.9" cy="149.6" r="3.25" fill="#00BFC4" fill-opacity="0.55"/>
<circle cx="482.4" cy="146.9" r="3.25" fill="#F8766D" fill-opacity="0.55"/>
<circle cx="486.7" cy="144.8" r="3.25" fill="#F8766D" fill-opacity="0.55"/>
<circle cx="487.8" cy="137.2" r="3.25" fill="#00BFC4" fill-opacity="0.55"/>
<circle cx="484.6" cy="134" r="3.25" fill="#F8766D" fill-opacity="0.55"/>
<circle cx="449.1" cy="151.2" r="3.25" fill="#F8766D" fill-opacity="0.55"/>
<circle cx="446.9" cy="148" r="3.25" fill="#F8766D" fill-opacity="0.55"/>
<circle cx="454.4" cy="149.1" r="3.25" fill="#00BFC4" fill-opacity="0.55"/>
<circle cx="458.8" cy="152.3" r="3.25" fill="#00BFC4" fill-opacity="0.55"/>
<circle cx="464.1" cy="152.3" r="3.25" fill="#F8766D" fill-opacity="0.55"/>
<circle cx="440.5" cy="152.3" r="3.25" fill="#00BFC4" fill-opacity="0.55"/>
<circle cx="444.8" cy="152.3" r="3.25" fill="#F8766D" fill-opacity="0.55"/>
<circle cx="428.6" cy="155.5" r="3.25" fill="#00BFC4" fill-opacity="0.55"/>
<circle cx="432.9" cy="155.5" r="3.25" fill="#F8766D" fill-opacity="0.55"/>
<circle cx="438.3" cy="156.6" r="3.25" fill="#F8766D" fill-opacity="0.55"/>
<circle cx="441.5" cy="158.8" r="3.25" fill="#F8766D" fill-opacity="0.55"/>
<circle cx="448" cy="157.7" r="3.25" fill="#F8766D" fill-opacity="0.55"/>
<circle cx="452.3" cy="157.7" r="3.25" fill="#00BFC4" fill-opacity="0.55"/>
<circle cx="444.8" cy="160.9" r="3.25" fill="#F8766D" fill-opacity="0.55"/>
<circle cx="455.5" cy="163.1" r="3.25" fill="#00BFC4" fill-opacity="0.55"/>
<circle cx="448" cy="164.1" r="3.25" fill="#F8766D" fill-opacity="0.55"/>
<circle cx="451.2" cy="167.4" r="3.25" fill="#00BFC4" fill-opacity="0.55"/>
<circle cx="428.6" cy="167.4" r="3.25" fill="#F8766D" fill-opacity="0.55"/>
<circle cx="427.5" cy="163.1" r="3.25" fill="#00BFC4" fill-opacity="0.55"/>
<circle cx="435.1" cy="164.1" r="3.25" fill="#F8766D" fill-opacity="0.55"/>
<circle cx="432.9" cy="160.9" r="3.25" fill="#F8766D" fill-opacity="0.55"/>
<circle cx="430.8" cy="160.9" r="3.25" fill="#F8766D" fill-opacity="0.55"/>
<circle cx="423.2" cy="167.4" r="3.25" fill="#F8766D" fill-opacity="0.55"/>
<circle cx="421.1" cy="167.4" r="3.25" fill="#F8766D" fill-opacity="0.55"/>
<circle cx="486.7" cy="167.4" r="3.25" fill="#F8766D" fill-opacity="0.55"/>
<circle cx="410.6" cy="182.5" r="3.25" fill="#F8766D" fill-opacity="0.55"/>
<circle cx="403" cy="187.5" r="3.25" fill="#F8766D" fill-opacity="0.55"/>
<circle cx="416.5" cy="177.3" r="3.25" fill="#F8766D" fill-opacity="0.55"/>
<circle cx="415.9" cy="178.4" r="3.25" fill="#F8766D" fill-opacity="0.55"/>
<circle cx="400.9" cy="186.4" r="3.25" fill="#F8766D" fill-opacity="0.55"/>
<circle cx="402.9" cy="186" r="3.25" fill="#F8766D" fill-opacity="0.55"/>
<circle cx="413.3" cy="179.9" r="3.25" fill="#F8766D" fill-opacity="0.55"/>
<circle cx="406.6" cy="182.9" r="3.25" fill="#F8766D" fill-opacity="0.55"/>
<circle cx="420.3" cy="177.3" r="3.25" fill="#F8766D" fill-opacity="0.55"/>
<circle cx="412" cy="179.7" r="3.25" fill="#F8766D" fill-opacity="0.55"/>
<circle cx="431.5" cy="171.6" r="3.25" fill="#F8766D" fill-opacity="0.55"/>
<circle cx="409.4" cy="182.8" r="3.25" fill="#F8766D" fill-opacity="0.55"/>
<circle cx="404.9" cy="185.5" r="3.25" fill="#F8766D" fill-opacity="0.55"/>
<circle cx="425.7" cy="173" r="3.25" fill="#F8766D" fill-opacity="0.55"/>
<circle cx="404.8" cy="182.8" r="3.25" fill="#F8766D" fill-opacity="0.55"/>
<circle cx="411.1" cy="179.8" r="3.25" fill="#F8766D" fill-opacity="0.55"/>
<circle cx="417.2" cy="177.7" r="3.25" fill="#F8766D" fill-opacity="0.55"/>
<circle cx="406.5" cy="183.8" r="3.25" fill="#F8766D" fill-opacity="0.55"/>
<circle cx="420.6" cy="174" r="3.25" fill="#F8766D" fill-opacity="0.55"/>
<circle cx="418.4" cy="177.1" r="3.25" fill="#F8766D" fill-opacity="0.55"/>
<circle cx="413.7" cy="178.5" r="3.25" fill="#F8766D" fill-opacity="0.55"/>
<circle cx="422.8" cy="176.5" r="3.25" fill="#F8766D" fill-opacity="0.55"/>
<circle cx="406.8" cy="181.8" r="3.25" fill="#F8766D" fill-opacity="0.55"/>
<circle cx="426.8" cy="170.7" r="3.25" fill="#F8766D" fill-opacity="0.55"/>
<circle cx="422.2" cy="173.3" r="3.25" fill="#F8766D" fill-opacity="0.55"/>
<circle cx="405.5" cy="188.4" r="3.25" fill="#F8766D" fill-opacity="0.55"/>
<circle cx="413" cy="179.8" r="3.25" fill="#F8766D" fill-opacity="0.55"/>
<circle cx="414.8" cy="177.8" r="3.25" fill="#F8766D" fill-opacity="0.55"/>
<circle cx="400.7" cy="185.8" r="3.25" fill="#F8766D" fill-opacity="0.55"/>
<circle cx="416.8" cy="175.2" r="3.25" fill="#F8766D" fill-opacity="0.55"/>
<circle cx="426.7" cy="170.6" r="3.25" fill="#F8766D" fill-opacity="0.55"/>
<circle cx="419.4" cy="178.1" r="3.25" fill="#F8766D" fill-opacity="0.55"/>
<circle cx="416.7" cy="174.7" r="3.25" fill="#F8766D" fill-opacity="0.55"/>
<circle cx="429.6" cy="170.6" r="3.25" fill="#F8766D" fill-opacity="0.55"/>
<circle cx="414.6" cy="178.5" r="3.25" fill="#F8766D" fill-opacity="0.55"/>
<circle cx="421.5" cy="174.2" r="3.25" fill="#F8766D" fill-opacity="0.55"/>
<circle cx="421.3" cy="177.6" r="3.25" fill="#F8766D" fill-opacity="0.55"/>
<circle cx="408.8" cy="182.1" r="3.25" fill="#F8766D" fill-opacity="0.55"/>
<circle cx="411.9" cy="180.2" r="3.25" fill="#F8766D" fill-opacity="0.55"/>
<circle cx="414.2" cy="178.8" r="3.25" fill="#F8766D" fill-opacity="0.55"/>
<circle cx="405.4" cy="184.7" r="3.25" fill="#F8766D" fill-opacity="0.55"/>
<circle cx="424" cy="173.5" r="3.25" fill="#F8766D" fill-opacity="0.55"/>
<circle cx="404" cy="185.1" r="3.25" fill="#F8766D" fill-opacity="0.55"/>
<circle cx="427.7" cy="172.5" r="3.25" fill="#F8766D" fill-opacity="0.55"/>
<circle cx="401.7" cy="184.7" r="3.25" fill="#F8766D" fill-opacity="0.55"/>
<circle cx="427.6" cy="171.6" r="3.25" fill="#F8766D" fill-opacity="0.55"/>
<circle cx="425.8" cy="172.9" r="3.25" fill="#F8766D" fill-opacity="0.55"/>
<circle cx="412.5" cy="179.1" r="3.25" fill="#F8766D" fill-opacity="0.55"/>
<circle cx="412.4" cy="183" r="3.25" fill="#F8766D" fill-opacity="0.55"/>
<circle cx="403.6" cy="182.8" r="3.25" fill="#F8766D" fill-opacity="0.55"/>
<circle cx="405.5" cy="184.3" r="3.25" fill="#F8766D" fill-opacity="0.55"/>
<circle cx="415.5" cy="179.3" r="3.25" fill="#F8766D" fill-opacity="0.55"/>
<circle cx="418.3" cy="176.6" r="3.25" fill="#F8766D" fill-opacity="0.55"/>
<circle cx="413" cy="179.9" r="3.25" fill="#F8766D" fill-opacity="0.55"/>
<circle cx="409.9" cy="178.1" r="3.25" fill="#F8766D" fill-opacity="0.55"/>
<circle cx="420.7" cy="173.6" r="3.25" fill="#F8766D" fill-opacity="0.55"/>
<circle cx="415.2" cy="176.7" r="3.25" fill="#F8766D" fill-opacity="0.55"/>
<circle cx="401" cy="185.4" r="3.25" fill="#F8766D" fill-opacity="0.55"/>
<circle cx="428.1" cy="171.3" r="3.25" fill="#F8766D" fill-opacity="0.55"/>
<circle cx="423.4" cy="170.5" r="3.25" fill="#F8766D" fill-opacity="0.55"/>
<circle cx="411.9" cy="179.8" r="3.25" fill="#F8766D" fill-opacity="0.55"/>
<circle cx="419.8" cy="176.1" r="3.25" fill="#F8766D" fill-opacity="0.55"/>
<circle cx="402.3" cy="187" r="3.25" fill="#F8766D" fill-opacity="0.55"/>
<circle cx="405.2" cy="184.8" r="3.25" fill="#F8766D" fill-opacity="0.55"/>
<circle cx="410.6" cy="181.2" r="3.25" fill="#F8766D" fill-opacity="0.55"/>
<circle cx="404.7" cy="184.7" r="3.25" fill="#F8766D" fill-opacity="0.55"/>
<circle cx="403" cy="185.5" r="3.25" fill="#F8766D" fill-opacity="0.55"/>
<circle cx="427.2" cy="171.5" r="3.25" fill="#F8766D" fill-opacity="0.55"/>
<circle cx="419.3" cy="176.6" r="3.25" fill="#F8766D" fill-opacity="0.55"/>
<circle cx="411.2" cy="181.8" r="3.25" fill="#F8766D" fill-opacity="0.55"/>
<circle cx="427.3" cy="167.2" r="3.25" fill="#F8766D" fill-opacity="0.55"/>
<circle cx="431.6" cy="175.9" r="3.25" fill="#F8766D" fill-opacity="0.55"/>
<circle cx="428.2" cy="170.8" r="3.25" fill="#F8766D" fill-opacity="0.55"/>
<circle cx="424.8" cy="167" r="3.25" fill="#F8766D" fill-opacity="0.55"/>
<circle cx="427.1" cy="168.6" r="3.25" fill="#F8766D" fill-opacity="0.55"/>
<circle cx="431.5" cy="167.6" r="3.25" fill="#F8766D" fill-opacity="0.55"/>
<circle cx="424.2" cy="175.5" r="3.25" fill="#F8766D" fill-opacity="0.55"/>
<circle cx="428.8" cy="167.5" r="3.25" fill="#F8766D" fill-opacity="0.55"/>
<circle cx="428.9" cy="166.3" r="3.25" fill="#F8766D" fill-opacity="0.55"/>
<circle cx="428.8" cy="175.8" r="3.25" fill="#F8766D" fill-opacity="0.55"/>
<circle cx="394.5" cy="190.5" r="3.25" fill="#00BFC4" fill-opacity="0.55"/>
<circle cx="396.5" cy="191.5" r="3.25" fill="#00BFC4" fill-opacity="0.55"/>
<circle cx="398" cy="190.5" r="3.25" fill="#00BFC4" fill-opacity="0.55"/>
<circle cx="397" cy="192.5" r="3.25" fill="#00BFC4" fill-opacity="0.55"/>
<circle cx="427" cy="179" r="3.25" fill="#00BFC4" fill-opacity="0.55"/>
<circle cx="430.7" cy="182.6" r="3.25" fill="#00BFC4" fill-opacity="0.55"/>
<circle cx="429.5" cy="184.5" r="3.25" fill="#00BFC4" fill-opacity="0.55"/>
<circle cx="423.2" cy="166.8" r="3.25" fill="#F8766D" fill-opacity="0.55"/>
<circle cx="442.7" cy="181" r="3.25" fill="#F8766D" fill-opacity="0.55"/>
<circle cx="438.1" cy="170.3" r="3.25" fill="#F8766D" fill-opacity="0.55"/>
<circle cx="437" cy="174" r="3.25" fill="#F8766D" fill-opacity="0.55"/>
<circle cx="440" cy="168" r="3.25" fill="#F8766D" fill-opacity="0.55"/>
<circle cx="442" cy="180.4" r="3.25" fill="#F8766D" fill-opacity="0.55"/>
<circle cx="437" cy="160" r="3.25" fill="#F8766D" fill-opacity="0.55"/>
<circle cx="441" cy="158" r="3.25" fill="#F8766D" fill-opacity="0.55"/>
<circle cx="440" cy="163" r="3.25" fill="#F8766D" fill-opacity="0.55"/>
<circle cx="433" cy="158" r="3.25" fill="#F8766D" fill-opacity="0.55"/>
<circle cx="446.8" cy="154.1" r="3.25" fill="#F8766D" fill-opacity="0.55"/>
<circle cx="449.4" cy="152.4" r="3.25" fill="#00BFC4" fill-opacity="0.55"/>
<circle cx="454.5" cy="143.1" r="3.25" fill="#F8766D" fill-opacity="0.55"/>
<circle cx="441.3" cy="151.1" r="3.25" fill="#00BFC4" fill-opacity="0.55"/>
<circle cx="446.9" cy="156.8" r="3.25" fill="#F8766D" fill-opacity="0.55"/>
<circle cx="436" cy="156.7" r="3.25" fill="#F8766D" fill-opacity="0.55"/>
<circle cx="441.2" cy="151.3" r="3.25" fill="#F8766D" fill-opacity="0.55"/>
<circle cx="440.2" cy="154.4" r="3.25" fill="#00BFC4" fill-opacity="0.55"/>
<circle cx="457.7" cy="146.1" r="3.25" fill="#F8766D" fill-opacity="0.55"/>
<circle cx="430.4" cy="164.6" r="3.25" fill="#F8766D" fill-opacity="0.55"/>
<circle cx="435.9" cy="157.6" r="3.25" fill="#F8766D" fill-opacity="0.55"/>
<circle cx="428.9" cy="158.5" r="3.25" fill="#F8766D" fill-opacity="0.55"/>
<circle cx="435.3" cy="159.4" r="3.25" fill="#F8766D" fill-opacity="0.55"/>
<circle cx="437" cy="157.8" r="3.25" fill="#F8766D" fill-opacity="0.55"/>
<circle cx="433.3" cy="160.4" r="3.25" fill="#00BFC4" fill-opacity="0.55"/>
<circle cx="450.2" cy="147.5" r="3.25" fill="#F8766D" fill-opacity="0.55"/>
<circle cx="439.7" cy="154.5" r="3.25" fill="#F8766D" fill-opacity="0.55"/>
<circle cx="438.9" cy="158.9" r="3.25" fill="#F8766D" fill-opacity="0.55"/>
<circle cx="438.7" cy="159.4" r="3.25" fill="#F8766D" fill-opacity="0.55"/>
<circle cx="446.5" cy="153.7" r="3.25" fill="#F8766D" fill-opacity="0.55"/>
<circle cx="440.2" cy="157" r="3.25" fill="#F8766D" fill-opacity="0.55"/>
<circle cx="443.8" cy="157.7" r="3.25" fill="#F8766D" fill-opacity="0.55"/>
<circle cx="446.3" cy="152.7" r="3.25" fill="#F8766D" fill-opacity="0.55"/>
<circle cx="438.2" cy="159.5" r="3.25" fill="#F8766D" fill-opacity="0.55"/>
<circle cx="446.4" cy="152.2" r="3.25" fill="#F8766D" fill-opacity="0.55"/>
</g>
<rect x="382" y="0" width="303" height="1" fill="#dcdcdc" shape-rendering="crispEdges"/>
<rect x="382" y="1" width="303" height="1" fill="#6e6e6e" shape-rendering="crispEdges"/>
<rect x="382" y="1" width="1" height="200" fill="#555" shape-rendering="crispEdges"/>
<rect x="683" y="1" width="1" height="200" fill="#6a6a6a" shape-rendering="crispEdges"/>
<rect x="684" y="1" width="1" height="200" fill="#b4b4b4" shape-rendering="crispEdges"/>
<rect x="382" y="199" width="302" height="2" fill="#999" shape-rendering="crispEdges"/>
<line x1="395.3" y1="199.6" x2="395.3" y2="202.6" stroke="#333" stroke-width="1.1"/>
<text transform="translate(395.3,214) scale(1,1.08)" font-size="11" fill="#4d4d4d" stroke="#4d4d4d" stroke-width="0.22" text-anchor="middle">0</text>
<line x1="447.9" y1="199.6" x2="447.9" y2="202.6" stroke="#333" stroke-width="1.1"/>
<text transform="translate(447.9,214) scale(1,1.08)" font-size="11" fill="#4d4d4d" stroke="#4d4d4d" stroke-width="0.22" text-anchor="middle">100</text>
<line x1="500.4" y1="199.6" x2="500.4" y2="202.6" stroke="#333" stroke-width="1.1"/>
<text transform="translate(500.4,214) scale(1,1.08)" font-size="11" fill="#4d4d4d" stroke="#4d4d4d" stroke-width="0.22" text-anchor="middle">200</text>
<line x1="553" y1="199.6" x2="553" y2="202.6" stroke="#333" stroke-width="1.1"/>
<text transform="translate(553,214) scale(1,1.08)" font-size="11" fill="#4d4d4d" stroke="#4d4d4d" stroke-width="0.22" text-anchor="middle">300</text>
<line x1="605.5" y1="199.6" x2="605.5" y2="202.6" stroke="#333" stroke-width="1.1"/>
<text transform="translate(605.5,214) scale(1,1.08)" font-size="11" fill="#4d4d4d" stroke="#4d4d4d" stroke-width="0.22" text-anchor="middle">400</text>
<line x1="658.1" y1="199.6" x2="658.1" y2="202.6" stroke="#333" stroke-width="1.1"/>
<text transform="translate(658.1,214) scale(1,1.08)" font-size="11" fill="#4d4d4d" stroke="#4d4d4d" stroke-width="0.22" text-anchor="middle">500</text>
<line x1="379.5" y1="191.4" x2="382.5" y2="191.4" stroke="#333" stroke-width="1.1"/>
<text transform="translate(377.5,191.4) scale(1,1.08)" y="4.32" font-size="11" fill="#4d4d4d" stroke="#4d4d4d" stroke-width="0.22" text-anchor="end">0</text>
<line x1="379.5" y1="155.6" x2="382.5" y2="155.6" stroke="#333" stroke-width="1.1"/>
<text transform="translate(377.5,155.6) scale(1,1.08)" y="4.32" font-size="11" fill="#4d4d4d" stroke="#4d4d4d" stroke-width="0.22" text-anchor="end">100</text>
<line x1="379.5" y1="119.8" x2="382.5" y2="119.8" stroke="#333" stroke-width="1.1"/>
<text transform="translate(377.5,119.8) scale(1,1.08)" y="4.32" font-size="11" fill="#4d4d4d" stroke="#4d4d4d" stroke-width="0.22" text-anchor="end">200</text>
<line x1="379.5" y1="84" x2="382.5" y2="84" stroke="#333" stroke-width="1.1"/>
<text transform="translate(377.5,84) scale(1,1.08)" y="4.32" font-size="11" fill="#4d4d4d" stroke="#4d4d4d" stroke-width="0.22" text-anchor="end">300</text>
<line x1="379.5" y1="48.2" x2="382.5" y2="48.2" stroke="#333" stroke-width="1.1"/>
<text transform="translate(377.5,48.2) scale(1,1.08)" y="4.32" font-size="11" fill="#4d4d4d" stroke="#4d4d4d" stroke-width="0.22" text-anchor="end">400</text>
<line x1="379.5" y1="12.4" x2="382.5" y2="12.4" stroke="#333" stroke-width="1.1"/>
<text transform="translate(377.5,12.4) scale(1,1.08)" y="4.32" font-size="11" fill="#4d4d4d" stroke="#4d4d4d" stroke-width="0.22" text-anchor="end">500</text>
<text x="532.2" y="228.4" font-size="11.1" font-weight="bold" fill="#000" text-anchor="middle">Individual predicted concentration (ng/mL)</text>
<text transform="translate(354.7,101.1) rotate(-90)" font-size="11.1" font-weight="bold" fill="#000" text-anchor="middle">Observed concentration (ng/mL)</text>
<clipPath id="cp3"><rect x="28.4" y="234.3" width="310.2" height="198.9"/></clipPath>
<g clip-path="url(#cp3)">
<line x1="28.4" y1="345.9" x2="338.6" y2="345.9" stroke="#b0b0b0" stroke-width="1.1"/>
<polyline points="41.4,345.6 85,346.4 150,348 230,350 270,351.3 288,352.2 313,353.2 322.6,353.4" fill="none" stroke="#000" stroke-width="1.3"/>
<circle cx="92.3" cy="243" r="3.25" fill="#F8766D" fill-opacity="0.55"/>
<circle cx="64.6" cy="273.8" r="3.25" fill="#F8766D" fill-opacity="0.55"/>
<circle cx="79.9" cy="275.7" r="3.25" fill="#F8766D" fill-opacity="0.55"/>
<circle cx="42.2" cy="283.4" r="3.25" fill="#00BFC4" fill-opacity="0.55"/>
<circle cx="63.9" cy="284.8" r="3.25" fill="#00BFC4" fill-opacity="0.55"/>
<circle cx="54.9" cy="288.9" r="3.25" fill="#F8766D" fill-opacity="0.55"/>
<circle cx="86.1" cy="292.8" r="3.25" fill="#F8766D" fill-opacity="0.55"/>
<circle cx="94.5" cy="293.4" r="3.25" fill="#F8766D" fill-opacity="0.55"/>
<circle cx="74.3" cy="294.3" r="3.25" fill="#F8766D" fill-opacity="0.55"/>
<circle cx="45.9" cy="298.1" r="3.25" fill="#F8766D" fill-opacity="0.55"/>
<circle cx="54.6" cy="301" r="3.25" fill="#00BFC4" fill-opacity="0.55"/>
<circle cx="57.6" cy="304.4" r="3.25" fill="#F8766D" fill-opacity="0.55"/>
<circle cx="68.9" cy="303.6" r="3.25" fill="#F8766D" fill-opacity="0.55"/>
<circle cx="46.4" cy="304.9" r="3.25" fill="#00BFC4" fill-opacity="0.55"/>
<circle cx="44" cy="307.3" r="3.25" fill="#00BFC4" fill-opacity="0.55"/>
<circle cx="56.1" cy="308.3" r="3.25" fill="#00BFC4" fill-opacity="0.55"/>
<circle cx="50.8" cy="309.7" r="3.25" fill="#F8766D" fill-opacity="0.55"/>
<circle cx="49.3" cy="312.6" r="3.25" fill="#F8766D" fill-opacity="0.55"/>
<circle cx="63.1" cy="311.2" r="3.25" fill="#00BFC4" fill-opacity="0.55"/>
<circle cx="85.2" cy="301" r="3.25" fill="#00BFC4" fill-opacity="0.55"/>
<circle cx="86.6" cy="298.6" r="3.25" fill="#F8766D" fill-opacity="0.55"/>
<circle cx="86.6" cy="304.9" r="3.25" fill="#00BFC4" fill-opacity="0.55"/>
<circle cx="81.3" cy="305.8" r="3.25" fill="#F8766D" fill-opacity="0.55"/>
<circle cx="81.3" cy="313.1" r="3.25" fill="#00BFC4" fill-opacity="0.55"/>
<circle cx="71.6" cy="315.5" r="3.25" fill="#00BFC4" fill-opacity="0.55"/>
<circle cx="42" cy="315.5" r="3.25" fill="#00BFC4" fill-opacity="0.55"/>
<circle cx="42.5" cy="318.9" r="3.25" fill="#00BFC4" fill-opacity="0.55"/>
<circle cx="44.5" cy="321.8" r="3.25" fill="#00BFC4" fill-opacity="0.55"/>
<circle cx="49.1" cy="318.9" r="3.25" fill="#F8766D" fill-opacity="0.55"/>
<circle cx="57.1" cy="317" r="3.25" fill="#00BFC4" fill-opacity="0.55"/>
<circle cx="55.1" cy="319.9" r="3.25" fill="#00BFC4" fill-opacity="0.55"/>
<circle cx="61.9" cy="320.9" r="3.25" fill="#00BFC4" fill-opacity="0.55"/>
<circle cx="65.8" cy="321.8" r="3.25" fill="#00BFC4" fill-opacity="0.55"/>
<circle cx="80.3" cy="319.9" r="3.25" fill="#F8766D" fill-opacity="0.55"/>
<circle cx="81.3" cy="323.3" r="3.25" fill="#00BFC4" fill-opacity="0.55"/>
<circle cx="77.4" cy="325.2" r="3.25" fill="#F8766D" fill-opacity="0.55"/>
<circle cx="54.2" cy="324.7" r="3.25" fill="#F8766D" fill-opacity="0.55"/>
<circle cx="59" cy="325.7" r="3.25" fill="#F8766D" fill-opacity="0.55"/>
<circle cx="68.7" cy="326.2" r="3.25" fill="#F8766D" fill-opacity="0.55"/>
<circle cx="71.6" cy="325.7" r="3.25" fill="#00BFC4" fill-opacity="0.55"/>
<circle cx="43.5" cy="326.7" r="3.25" fill="#00BFC4" fill-opacity="0.55"/>
<circle cx="45.9" cy="327.6" r="3.25" fill="#F8766D" fill-opacity="0.55"/>
<circle cx="50.3" cy="327.6" r="3.25" fill="#00BFC4" fill-opacity="0.55"/>
<circle cx="61.9" cy="328.1" r="3.25" fill="#00BFC4" fill-opacity="0.55"/>
<circle cx="87.6" cy="321.8" r="3.25" fill="#F8766D" fill-opacity="0.55"/>
<circle cx="120.5" cy="281.2" r="3.25" fill="#00BFC4" fill-opacity="0.55"/>
<circle cx="131.1" cy="284.1" r="3.25" fill="#00BFC4" fill-opacity="0.55"/>
<circle cx="121.1" cy="292.5" r="3.25" fill="#00BFC4" fill-opacity="0.55"/>
<circle cx="111.4" cy="303.2" r="3.25" fill="#F8766D" fill-opacity="0.55"/>
<circle cx="132.4" cy="304.5" r="3.25" fill="#F8766D" fill-opacity="0.55"/>
<circle cx="155" cy="296.4" r="3.25" fill="#F8766D" fill-opacity="0.55"/>
<circle cx="100.9" cy="307.9" r="3.25" fill="#00BFC4" fill-opacity="0.55"/>
<circle cx="108.7" cy="312.8" r="3.25" fill="#F8766D" fill-opacity="0.55"/>
<circle cx="99.5" cy="314.2" r="3.25" fill="#F8766D" fill-opacity="0.55"/>
<circle cx="126.8" cy="314.2" r="3.25" fill="#F8766D" fill-opacity="0.55"/>
<circle cx="132.9" cy="310.6" r="3.25" fill="#F8766D" fill-opacity="0.55"/>
<circle cx="134.5" cy="313.8" r="3.25" fill="#F8766D" fill-opacity="0.55"/>
<circle cx="117.1" cy="317.1" r="3.25" fill="#00BFC4" fill-opacity="0.55"/>
<circle cx="137.7" cy="318.9" r="3.25" fill="#00BFC4" fill-opacity="0.55"/>
<circle cx="106.5" cy="319.5" r="3.25" fill="#00BFC4" fill-opacity="0.55"/>
<circle cx="94.7" cy="320.3" r="3.25" fill="#F8766D" fill-opacity="0.55"/>
<circle cx="89.8" cy="321.4" r="3.25" fill="#F8766D" fill-opacity="0.55"/>
<circle cx="101.1" cy="320" r="3.25" fill="#F8766D" fill-opacity="0.55"/>
<circle cx="110.8" cy="325.1" r="3.25" fill="#F8766D" fill-opacity="0.55"/>
<circle cx="114.1" cy="326.2" r="3.25" fill="#F8766D" fill-opacity="0.55"/>
<circle cx="116.2" cy="329.4" r="3.25" fill="#F8766D" fill-opacity="0.55"/>
<circle cx="106.5" cy="326.2" r="3.25" fill="#F8766D" fill-opacity="0.55"/>
<circle cx="96.8" cy="327.3" r="3.25" fill="#F8766D" fill-opacity="0.55"/>
<circle cx="92.5" cy="326.2" r="3.25" fill="#00BFC4" fill-opacity="0.55"/>
<circle cx="91.5" cy="329.4" r="3.25" fill="#F8766D" fill-opacity="0.55"/>
<circle cx="109.2" cy="330.5" r="3.25" fill="#00BFC4" fill-opacity="0.55"/>
<circle cx="102.2" cy="324.1" r="3.25" fill="#00BFC4" fill-opacity="0.55"/>
<circle cx="124.8" cy="325.7" r="3.25" fill="#F8766D" fill-opacity="0.55"/>
<circle cx="122.7" cy="327.3" r="3.25" fill="#00BFC4" fill-opacity="0.55"/>
<circle cx="129.1" cy="324.1" r="3.25" fill="#00BFC4" fill-opacity="0.55"/>
<circle cx="134.5" cy="326.2" r="3.25" fill="#00BFC4" fill-opacity="0.55"/>
<circle cx="131.3" cy="330.5" r="3.25" fill="#00BFC4" fill-opacity="0.55"/>
<circle cx="136.1" cy="330.5" r="3.25" fill="#00BFC4" fill-opacity="0.55"/>
<circle cx="148.5" cy="325.7" r="3.25" fill="#00BFC4" fill-opacity="0.55"/>
<circle cx="144.7" cy="331.6" r="3.25" fill="#00BFC4" fill-opacity="0.55"/>
<circle cx="121.6" cy="333.8" r="3.25" fill="#F8766D" fill-opacity="0.55"/>
<circle cx="127" cy="337" r="3.25" fill="#F8766D" fill-opacity="0.55"/>
<circle cx="133.4" cy="335.9" r="3.25" fill="#00BFC4" fill-opacity="0.55"/>
<circle cx="135.6" cy="339.1" r="3.25" fill="#00BFC4" fill-opacity="0.55"/>
<circle cx="115.1" cy="339.1" r="3.25" fill="#F8766D" fill-opacity="0.55"/>
<circle cx="106.5" cy="337" r="3.25" fill="#00BFC4" fill-opacity="0.55"/>
<circle cx="105.5" cy="340.2" r="3.25" fill="#00BFC4" fill-opacity="0.55"/>
<circle cx="97.9" cy="339.1" r="3.25" fill="#00BFC4" fill-opacity="0.55"/>
<circle cx="96.8" cy="334.8" r="3.25" fill="#F8766D" fill-opacity="0.55"/>
<circle cx="89.3" cy="337" r="3.25" fill="#F8766D" fill-opacity="0.55"/>
<circle cx="88.2" cy="340.2" r="3.25" fill="#F8766D" fill-opacity="0.55"/>
<circle cx="144.2" cy="340.2" r="3.25" fill="#00BFC4" fill-opacity="0.55"/>
<circle cx="139.9" cy="341.3" r="3.25" fill="#F8766D" fill-opacity="0.55"/>
<circle cx="151.7" cy="335.9" r="3.25" fill="#F8766D" fill-opacity="0.55"/>
<circle cx="153.9" cy="332.7" r="3.25" fill="#F8766D" fill-opacity="0.55"/>
<circle cx="149.6" cy="340.2" r="3.25" fill="#F8766D" fill-opacity="0.55"/>
<circle cx="128.1" cy="343.4" r="3.25" fill="#00BFC4" fill-opacity="0.55"/>
<circle cx="118.4" cy="342.4" r="3.25" fill="#00BFC4" fill-opacity="0.55"/>
<circle cx="109.8" cy="343.4" r="3.25" fill="#00BFC4" fill-opacity="0.55"/>
<circle cx="42.5" cy="326" r="3.25" fill="#00BFC4" fill-opacity="0.55"/>
<circle cx="51.3" cy="326" r="3.25" fill="#00BFC4" fill-opacity="0.55"/>
<circle cx="54.2" cy="326" r="3.25" fill="#F8766D" fill-opacity="0.55"/>
<circle cx="64.8" cy="327" r="3.25" fill="#00BFC4" fill-opacity="0.55"/>
<circle cx="72.6" cy="327.9" r="3.25" fill="#00BFC4" fill-opacity="0.55"/>
<circle cx="74.5" cy="330.8" r="3.25" fill="#00BFC4" fill-opacity="0.55"/>
<circle cx="78.4" cy="332.3" r="3.25" fill="#00BFC4" fill-opacity="0.55"/>
<circle cx="42.5" cy="334.7" r="3.25" fill="#00BFC4" fill-opacity="0.55"/>
<circle cx="44.5" cy="339.5" r="3.25" fill="#00BFC4" fill-opacity="0.55"/>
<circle cx="47.4" cy="335.7" r="3.25" fill="#F8766D" fill-opacity="0.55"/>
<circle cx="54.2" cy="330.8" r="3.25" fill="#F8766D" fill-opacity="0.55"/>
<circle cx="57.1" cy="337.6" r="3.25" fill="#F8766D" fill-opacity="0.55"/>
<circle cx="53.2" cy="336.6" r="3.25" fill="#00BFC4" fill-opacity="0.55"/>
<circle cx="62.9" cy="333.7" r="3.25" fill="#F8766D" fill-opacity="0.55"/>
<circle cx="65.8" cy="332.8" r="3.25" fill="#F8766D" fill-opacity="0.55"/>
<circle cx="69.7" cy="336.6" r="3.25" fill="#00BFC4" fill-opacity="0.55"/>
<circle cx="65.8" cy="339.5" r="3.25" fill="#F8766D" fill-opacity="0.55"/>
<circle cx="50.3" cy="340.5" r="3.25" fill="#F8766D" fill-opacity="0.55"/>
<circle cx="72.6" cy="339.5" r="3.25" fill="#00BFC4" fill-opacity="0.55"/>
<circle cx="76.4" cy="342.4" r="3.25" fill="#F8766D" fill-opacity="0.55"/>
<circle cx="78.4" cy="339.5" r="3.25" fill="#00BFC4" fill-opacity="0.55"/>
<circle cx="83.2" cy="339.5" r="3.25" fill="#F8766D" fill-opacity="0.55"/>
<circle cx="87.1" cy="336.6" r="3.25" fill="#F8766D" fill-opacity="0.55"/>
<circle cx="43.5" cy="344.4" r="3.25" fill="#00BFC4" fill-opacity="0.55"/>
<circle cx="49.3" cy="342.4" r="3.25" fill="#F8766D" fill-opacity="0.55"/>
<circle cx="55.1" cy="344.4" r="3.25" fill="#00BFC4" fill-opacity="0.55"/>
<circle cx="57.1" cy="342.4" r="3.25" fill="#F8766D" fill-opacity="0.55"/>
<circle cx="61.9" cy="344.4" r="3.25" fill="#00BFC4" fill-opacity="0.55"/>
<circle cx="66.8" cy="341.5" r="3.25" fill="#F8766D" fill-opacity="0.55"/>
<circle cx="69.7" cy="343.4" r="3.25" fill="#00BFC4" fill-opacity="0.55"/>
<circle cx="74.5" cy="345.3" r="3.25" fill="#F8766D" fill-opacity="0.55"/>
<circle cx="79.4" cy="344.4" r="3.25" fill="#00BFC4" fill-opacity="0.55"/>
<circle cx="83.2" cy="346.3" r="3.25" fill="#F8766D" fill-opacity="0.55"/>
<circle cx="86.1" cy="344.4" r="3.25" fill="#00BFC4" fill-opacity="0.55"/>
<circle cx="42.5" cy="352.1" r="3.25" fill="#00BFC4" fill-opacity="0.55"/>
<circle cx="47.4" cy="348.3" r="3.25" fill="#00BFC4" fill-opacity="0.55"/>
<circle cx="52.2" cy="350.2" r="3.25" fill="#F8766D" fill-opacity="0.55"/>
<circle cx="54.2" cy="353.1" r="3.25" fill="#F8766D" fill-opacity="0.55"/>
<circle cx="58" cy="349.2" r="3.25" fill="#00BFC4" fill-opacity="0.55"/>
<circle cx="61.9" cy="351.2" r="3.25" fill="#00BFC4" fill-opacity="0.55"/>
<circle cx="63.9" cy="351.2" r="3.25" fill="#F8766D" fill-opacity="0.55"/>
<circle cx="68.7" cy="349.2" r="3.25" fill="#00BFC4" fill-opacity="0.55"/>
<circle cx="73.5" cy="351.2" r="3.25" fill="#F8766D" fill-opacity="0.55"/>
<circle cx="79.4" cy="348.3" r="3.25" fill="#F8766D" fill-opacity="0.55"/>
<circle cx="80.3" cy="353.1" r="3.25" fill="#F8766D" fill-opacity="0.55"/>
<circle cx="84.2" cy="352.1" r="3.25" fill="#00BFC4" fill-opacity="0.55"/>
<circle cx="86.1" cy="349.2" r="3.25" fill="#00BFC4" fill-opacity="0.55"/>
<circle cx="43.5" cy="358.9" r="3.25" fill="#00BFC4" fill-opacity="0.55"/>
<circle cx="48.3" cy="356" r="3.25" fill="#F8766D" fill-opacity="0.55"/>
<circle cx="53.2" cy="357.9" r="3.25" fill="#00BFC4" fill-opacity="0.55"/>
<circle cx="57.1" cy="357.9" r="3.25" fill="#F8766D" fill-opacity="0.55"/>
<circle cx="55.1" cy="361.8" r="3.25" fill="#00BFC4" fill-opacity="0.55"/>
<circle cx="61.9" cy="362.8" r="3.25" fill="#F8766D" fill-opacity="0.55"/>
<circle cx="62.9" cy="357" r="3.25" fill="#F8766D" fill-opacity="0.55"/>
<circle cx="67.7" cy="357.9" r="3.25" fill="#F8766D" fill-opacity="0.55"/>
<circle cx="68.7" cy="362.8" r="3.25" fill="#F8766D" fill-opacity="0.55"/>
<circle cx="64.8" cy="363.8" r="3.25" fill="#F8766D" fill-opacity="0.55"/>
<circle cx="72.6" cy="358.9" r="3.25" fill="#F8766D" fill-opacity="0.55"/>
<circle cx="73.5" cy="363.8" r="3.25" fill="#00BFC4" fill-opacity="0.55"/>
<circle cx="77.4" cy="356" r="3.25" fill="#F8766D" fill-opacity="0.55"/>
<circle cx="81.3" cy="358.9" r="3.25" fill="#F8766D" fill-opacity="0.55"/>
<circle cx="85.2" cy="356" r="3.25" fill="#00BFC4" fill-opacity="0.55"/>
<circle cx="86.1" cy="360.9" r="3.25" fill="#F8766D" fill-opacity="0.55"/>
<circle cx="87.1" cy="354.1" r="3.25" fill="#00BFC4" fill-opacity="0.55"/>
<circle cx="48.3" cy="365.7" r="3.25" fill="#F8766D" fill-opacity="0.55"/>
<circle cx="45.4" cy="368.6" r="3.25" fill="#00BFC4" fill-opacity="0.55"/>
<circle cx="52.2" cy="367.6" r="3.25" fill="#00BFC4" fill-opacity="0.55"/>
<circle cx="59" cy="366.7" r="3.25" fill="#F8766D" fill-opacity="0.55"/>
<circle cx="61.9" cy="365.7" r="3.25" fill="#F8766D" fill-opacity="0.55"/>
<circle cx="68.7" cy="367.6" r="3.25" fill="#00BFC4" fill-opacity="0.55"/>
<circle cx="73.5" cy="368.6" r="3.25" fill="#F8766D" fill-opacity="0.55"/>
<circle cx="82.3" cy="365.7" r="3.25" fill="#00BFC4" fill-opacity="0.55"/>
<circle cx="84.2" cy="368.6" r="3.25" fill="#F8766D" fill-opacity="0.55"/>
<circle cx="43.1" cy="372" r="3.25" fill="#00BFC4" fill-opacity="0.55"/>
<circle cx="49.5" cy="369.3" r="3.25" fill="#00BFC4" fill-opacity="0.55"/>
<circle cx="50.6" cy="372.5" r="3.25" fill="#00BFC4" fill-opacity="0.55"/>
<circle cx="46.8" cy="377.9" r="3.25" fill="#00BFC4" fill-opacity="0.55"/>
<circle cx="51.7" cy="378.5" r="3.25" fill="#F8766D" fill-opacity="0.55"/>
<circle cx="56" cy="370.4" r="3.25" fill="#00BFC4" fill-opacity="0.55"/>
<circle cx="56" cy="370.4" r="3.25" fill="#F8766D" fill-opacity="0.55"/>
<circle cx="62.4" cy="371.5" r="3.25" fill="#00BFC4" fill-opacity="0.55"/>
<circle cx="64.6" cy="374.7" r="3.25" fill="#00BFC4" fill-opacity="0.55"/>
<circle cx="64.6" cy="374.7" r="3.25" fill="#F8766D" fill-opacity="0.55"/>
<circle cx="58.1" cy="375.8" r="3.25" fill="#F8766D" fill-opacity="0.55"/>
<circle cx="59.2" cy="381.1" r="3.25" fill="#F8766D" fill-opacity="0.55"/>
<circle cx="64.6" cy="381.1" r="3.25" fill="#F8766D" fill-opacity="0.55"/>
<circle cx="68.9" cy="372.5" r="3.25" fill="#F8766D" fill-opacity="0.55"/>
<circle cx="73.2" cy="370.4" r="3.25" fill="#F8766D" fill-opacity="0.55"/>
<circle cx="77.5" cy="372.5" r="3.25" fill="#F8766D" fill-opacity="0.55"/>
<circle cx="73.2" cy="379" r="3.25" fill="#F8766D" fill-opacity="0.55"/>
<circle cx="71.1" cy="380.6" r="3.25" fill="#00BFC4" fill-opacity="0.55"/>
<circle cx="79.7" cy="375.8" r="3.25" fill="#00BFC4" fill-opacity="0.55"/>
<circle cx="86.1" cy="372.5" r="3.25" fill="#00BFC4" fill-opacity="0.55"/>
<circle cx="92.6" cy="373.6" r="3.25" fill="#F8766D" fill-opacity="0.55"/>
<circle cx="80.7" cy="382.2" r="3.25" fill="#00BFC4" fill-opacity="0.55"/>
<circle cx="84" cy="381.1" r="3.25" fill="#00BFC4" fill-opacity="0.55"/>
<circle cx="87.2" cy="380.1" r="3.25" fill="#F8766D" fill-opacity="0.55"/>
<circle cx="93.7" cy="369.3" r="3.25" fill="#00BFC4" fill-opacity="0.55"/>
<circle cx="96.9" cy="376.8" r="3.25" fill="#F8766D" fill-opacity="0.55"/>
<circle cx="45.8" cy="386" r="3.25" fill="#00BFC4" fill-opacity="0.55"/>
<circle cx="49" cy="384.9" r="3.25" fill="#00BFC4" fill-opacity="0.55"/>
<circle cx="54.9" cy="390.8" r="3.25" fill="#00BFC4" fill-opacity="0.55"/>
<circle cx="46.3" cy="396.2" r="3.25" fill="#00BFC4" fill-opacity="0.55"/>
<circle cx="53.8" cy="396.2" r="3.25" fill="#00BFC4" fill-opacity="0.55"/>
<circle cx="71.1" cy="388.7" r="3.25" fill="#00BFC4" fill-opacity="0.55"/>
<circle cx="75.9" cy="388.7" r="3.25" fill="#00BFC4" fill-opacity="0.55"/>
<circle cx="67.8" cy="397.8" r="3.25" fill="#00BFC4" fill-opacity="0.55"/>
<circle cx="66.8" cy="400.5" r="3.25" fill="#00BFC4" fill-opacity="0.55"/>
<circle cx="57.6" cy="403.2" r="3.25" fill="#F8766D" fill-opacity="0.55"/>
<circle cx="91" cy="397.8" r="3.25" fill="#00BFC4" fill-opacity="0.55"/>
<circle cx="90" cy="413.5" r="3.25" fill="#00BFC4" fill-opacity="0.55"/>
<circle cx="98" cy="389.8" r="3.25" fill="#F8766D" fill-opacity="0.55"/>
<circle cx="98" cy="416.3" r="3.25" fill="#00BFC4" fill-opacity="0.55"/>
<circle cx="81.8" cy="422.9" r="3.25" fill="#00BFC4" fill-opacity="0.55"/>
<circle cx="88.2" cy="341.1" r="3.25" fill="#00BFC4" fill-opacity="0.55"/>
<circle cx="95.8" cy="341.1" r="3.25" fill="#00BFC4" fill-opacity="0.55"/>
<circle cx="104.4" cy="341.1" r="3.25" fill="#00BFC4" fill-opacity="0.55"/>
<circle cx="115.1" cy="340.5" r="3.25" fill="#00BFC4" fill-opacity="0.55"/>
<circle cx="116.2" cy="341.1" r="3.25" fill="#F8766D" fill-opacity="0.55"/>
<circle cx="113" cy="344.3" r="3.25" fill="#F8766D" fill-opacity="0.55"/>
<circle cx="106.5" cy="344.3" r="3.25" fill="#00BFC4" fill-opacity="0.55"/>
<circle cx="124.8" cy="347.5" r="3.25" fill="#F8766D" fill-opacity="0.55"/>
<circle cx="135.6" cy="340.5" r="3.25" fill="#00BFC4" fill-opacity="0.55"/>
<circle cx="143.1" cy="341.1" r="3.25" fill="#00BFC4" fill-opacity="0.55"/>
<circle cx="150.1" cy="345.9" r="3.25" fill="#F8766D" fill-opacity="0.55"/>
<circle cx="87.2" cy="350.8" r="3.25" fill="#00BFC4" fill-opacity="0.55"/>
<circle cx="91.5" cy="349.7" r="3.25" fill="#00BFC4" fill-opacity="0.55"/>
<circle cx="92.5" cy="352.9" r="3.25" fill="#F8766D" fill-opacity="0.55"/>
<circle cx="96.8" cy="351.3" r="3.25" fill="#00BFC4" fill-opacity="0.55"/>
<circle cx="104.4" cy="350.2" r="3.25" fill="#00BFC4" fill-opacity="0.55"/>
<circle cx="104.4" cy="350.2" r="3.25" fill="#F8766D" fill-opacity="0.55"/>
<circle cx="110.8" cy="350.8" r="3.25" fill="#00BFC4" fill-opacity="0.55"/>
<circle cx="114.1" cy="349.7" r="3.25" fill="#00BFC4" fill-opacity="0.55"/>
<circle cx="127" cy="352.4" r="3.25" fill="#00BFC4" fill-opacity="0.55"/>
<circle cx="131.3" cy="355.1" r="3.25" fill="#00BFC4" fill-opacity="0.55"/>
<circle cx="131.3" cy="355.1" r="3.25" fill="#F8766D" fill-opacity="0.55"/>
<circle cx="133.4" cy="352.9" r="3.25" fill="#00BFC4" fill-opacity="0.55"/>
<circle cx="140.4" cy="356.7" r="3.25" fill="#F8766D" fill-opacity="0.55"/>
<circle cx="150.1" cy="352.9" r="3.25" fill="#F8766D" fill-opacity="0.55"/>
<circle cx="88.2" cy="357.2" r="3.25" fill="#00BFC4" fill-opacity="0.55"/>
<circle cx="101.1" cy="359.4" r="3.25" fill="#F8766D" fill-opacity="0.55"/>
<circle cx="108.7" cy="356.1" r="3.25" fill="#00BFC4" fill-opacity="0.55"/>
<circle cx="108.7" cy="356.1" r="3.25" fill="#F8766D" fill-opacity="0.55"/>
<circle cx="113" cy="357.8" r="3.25" fill="#00BFC4" fill-opacity="0.55"/>
<circle cx="109.8" cy="361" r="3.25" fill="#F8766D" fill-opacity="0.55"/>
<circle cx="103.3" cy="361.5" r="3.25" fill="#F8766D" fill-opacity="0.55"/>
<circle cx="117.3" cy="360.5" r="3.25" fill="#00BFC4" fill-opacity="0.55"/>
<circle cx="117.3" cy="360.5" r="3.25" fill="#F8766D" fill-opacity="0.55"/>
<circle cx="123.8" cy="359.9" r="3.25" fill="#F8766D" fill-opacity="0.55"/>
<circle cx="91.5" cy="362.6" r="3.25" fill="#F8766D" fill-opacity="0.55"/>
<circle cx="93.6" cy="365.8" r="3.25" fill="#00BFC4" fill-opacity="0.55"/>
<circle cx="101.1" cy="365.3" r="3.25" fill="#00BFC4" fill-opacity="0.55"/>
<circle cx="107.6" cy="365.8" r="3.25" fill="#00BFC4" fill-opacity="0.55"/>
<circle cx="113" cy="367.4" r="3.25" fill="#00BFC4" fill-opacity="0.55"/>
<circle cx="113.5" cy="372.3" r="3.25" fill="#F8766D" fill-opacity="0.55"/>
<circle cx="143.1" cy="367.4" r="3.25" fill="#F8766D" fill-opacity="0.55"/>
<circle cx="146.4" cy="370.1" r="3.25" fill="#00BFC4" fill-opacity="0.55"/>
<circle cx="149" cy="373.4" r="3.25" fill="#F8766D" fill-opacity="0.55"/>
<circle cx="86.1" cy="371.2" r="3.25" fill="#00BFC4" fill-opacity="0.55"/>
<circle cx="87.2" cy="376.6" r="3.25" fill="#00BFC4" fill-opacity="0.55"/>
<circle cx="87.2" cy="380.4" r="3.25" fill="#00BFC4" fill-opacity="0.55"/>
<circle cx="98.5" cy="376.6" r="3.25" fill="#F8766D" fill-opacity="0.55"/>
<circle cx="102.2" cy="377.1" r="3.25" fill="#00BFC4" fill-opacity="0.55"/>
<circle cx="106.5" cy="376.6" r="3.25" fill="#00BFC4" fill-opacity="0.55"/>
<circle cx="106.5" cy="376.6" r="3.25" fill="#F8766D" fill-opacity="0.55"/>
<circle cx="108.7" cy="374.4" r="3.25" fill="#00BFC4" fill-opacity="0.55"/>
<circle cx="117.3" cy="378.8" r="3.25" fill="#F8766D" fill-opacity="0.55"/>
<circle cx="119.4" cy="376.1" r="3.25" fill="#F8766D" fill-opacity="0.55"/>
<circle cx="108.7" cy="382" r="3.25" fill="#F8766D" fill-opacity="0.55"/>
<circle cx="134" cy="382.5" r="3.25" fill="#00BFC4" fill-opacity="0.55"/>
<circle cx="143.7" cy="382" r="3.25" fill="#F8766D" fill-opacity="0.55"/>
<circle cx="99.5" cy="389" r="3.25" fill="#F8766D" fill-opacity="0.55"/>
<circle cx="114.1" cy="388.4" r="3.25" fill="#00BFC4" fill-opacity="0.55"/>
<circle cx="146.9" cy="424.5" r="3.25" fill="#00BFC4" fill-opacity="0.55"/>
<circle cx="161.5" cy="421" r="3.25" fill="#F8766D" fill-opacity="0.55"/>
<circle cx="158.8" cy="396.1" r="3.25" fill="#F8766D" fill-opacity="0.55"/>
<circle cx="158.8" cy="397.8" r="3.25" fill="#00BFC4" fill-opacity="0.55"/>
<circle cx="167.1" cy="288.4" r="3.25" fill="#F8766D" fill-opacity="0.55"/>
<circle cx="171.3" cy="300.9" r="3.25" fill="#F8766D" fill-opacity="0.55"/>
<circle cx="167.1" cy="311.4" r="3.25" fill="#F8766D" fill-opacity="0.55"/>
<circle cx="179.7" cy="316.2" r="3.25" fill="#F8766D" fill-opacity="0.55"/>
<circle cx="194.3" cy="311.4" r="3.25" fill="#F8766D" fill-opacity="0.55"/>
<circle cx="173.9" cy="323.3" r="3.25" fill="#F8766D" fill-opacity="0.55"/>
<circle cx="215.2" cy="314.2" r="3.25" fill="#F8766D" fill-opacity="0.55"/>
<circle cx="218.1" cy="322.4" r="3.25" fill="#F8766D" fill-opacity="0.55"/>
<circle cx="220.4" cy="331.4" r="3.25" fill="#00BFC4" fill-opacity="0.55"/>
<circle cx="217.2" cy="334.3" r="3.25" fill="#F8766D" fill-opacity="0.55"/>
<circle cx="227.5" cy="332.3" r="3.25" fill="#F8766D" fill-opacity="0.55"/>
<circle cx="226.9" cy="336.2" r="3.25" fill="#F8766D" fill-opacity="0.55"/>
<circle cx="223" cy="338.8" r="3.25" fill="#F8766D" fill-opacity="0.55"/>
<circle cx="163.6" cy="338.1" r="3.25" fill="#F8766D" fill-opacity="0.55"/>
<circle cx="185.9" cy="339.7" r="3.25" fill="#F8766D" fill-opacity="0.55"/>
<circle cx="164.9" cy="342.3" r="3.25" fill="#F8766D" fill-opacity="0.55"/>
<circle cx="179.1" cy="342.9" r="3.25" fill="#00BFC4" fill-opacity="0.55"/>
<circle cx="151.3" cy="346.1" r="3.25" fill="#F8766D" fill-opacity="0.55"/>
<circle cx="160.3" cy="347.4" r="3.25" fill="#F8766D" fill-opacity="0.55"/>
<circle cx="179.7" cy="347.4" r="3.25" fill="#F8766D" fill-opacity="0.55"/>
<circle cx="188.8" cy="350" r="3.25" fill="#F8766D" fill-opacity="0.55"/>
<circle cx="189.4" cy="351.3" r="3.25" fill="#00BFC4" fill-opacity="0.55"/>
<circle cx="197.8" cy="348.1" r="3.25" fill="#F8766D" fill-opacity="0.55"/>
<circle cx="201.7" cy="348.7" r="3.25" fill="#F8766D" fill-opacity="0.55"/>
<circle cx="198.4" cy="352.6" r="3.25" fill="#F8766D" fill-opacity="0.55"/>
<circle cx="200.4" cy="355.8" r="3.25" fill="#F8766D" fill-opacity="0.55"/>
<circle cx="217.2" cy="346.1" r="3.25" fill="#F8766D" fill-opacity="0.55"/>
<circle cx="220.4" cy="346.1" r="3.25" fill="#F8766D" fill-opacity="0.55"/>
<circle cx="151.3" cy="353.3" r="3.25" fill="#F8766D" fill-opacity="0.55"/>
<circle cx="156.5" cy="354.5" r="3.25" fill="#00BFC4" fill-opacity="0.55"/>
<circle cx="163.6" cy="354.5" r="3.25" fill="#F8766D" fill-opacity="0.55"/>
<circle cx="172.6" cy="358.7" r="3.25" fill="#F8766D" fill-opacity="0.55"/>
<circle cx="157.8" cy="360.4" r="3.25" fill="#F8766D" fill-opacity="0.55"/>
<circle cx="156.5" cy="362.9" r="3.25" fill="#00BFC4" fill-opacity="0.55"/>
<circle cx="217.2" cy="358.4" r="3.25" fill="#F8766D" fill-opacity="0.55"/>
<circle cx="220.8" cy="357.1" r="3.25" fill="#F8766D" fill-opacity="0.55"/>
<circle cx="224.9" cy="362.9" r="3.25" fill="#F8766D" fill-opacity="0.55"/>
<circle cx="150.6" cy="373.3" r="3.25" fill="#F8766D" fill-opacity="0.55"/>
<circle cx="160.1" cy="373.9" r="3.25" fill="#F8766D" fill-opacity="0.55"/>
<circle cx="196.3" cy="373.3" r="3.25" fill="#00BFC4" fill-opacity="0.55"/>
<circle cx="179.1" cy="379.7" r="3.25" fill="#F8766D" fill-opacity="0.55"/>
<circle cx="172.6" cy="403.4" r="3.25" fill="#F8766D" fill-opacity="0.55"/>
<circle cx="236.9" cy="388.8" r="3.25" fill="#F8766D" fill-opacity="0.55"/>
<circle cx="235.3" cy="315.7" r="3.25" fill="#F8766D" fill-opacity="0.55"/>
<circle cx="232.8" cy="341" r="3.25" fill="#00BFC4" fill-opacity="0.55"/>
<circle cx="243.1" cy="345.9" r="3.25" fill="#00BFC4" fill-opacity="0.55"/>
<circle cx="243.1" cy="345.9" r="3.25" fill="#F8766D" fill-opacity="0.55"/>
<circle cx="253.4" cy="346.7" r="3.25" fill="#00BFC4" fill-opacity="0.55"/>
<circle cx="263.8" cy="347.6" r="3.25" fill="#F8766D" fill-opacity="0.55"/>
<circle cx="247.4" cy="349" r="3.25" fill="#F8766D" fill-opacity="0.55"/>
<circle cx="262.1" cy="351.7" r="3.25" fill="#F8766D" fill-opacity="0.55"/>
<circle cx="248.3" cy="353.4" r="3.25" fill="#00BFC4" fill-opacity="0.55"/>
<circle cx="243.1" cy="353.8" r="3.25" fill="#F8766D" fill-opacity="0.55"/>
<circle cx="257.8" cy="355.5" r="3.25" fill="#F8766D" fill-opacity="0.55"/>
<circle cx="253.4" cy="358.1" r="3.25" fill="#F8766D" fill-opacity="0.55"/>
<circle cx="251.7" cy="360.3" r="3.25" fill="#F8766D" fill-opacity="0.55"/>
<circle cx="243.1" cy="361" r="3.25" fill="#F8766D" fill-opacity="0.55"/>
<circle cx="233.3" cy="369.7" r="3.25" fill="#F8766D" fill-opacity="0.55"/>
<circle cx="239.7" cy="374.1" r="3.25" fill="#F8766D" fill-opacity="0.55"/>
<circle cx="259.1" cy="374.8" r="3.25" fill="#00BFC4" fill-opacity="0.55"/>
<circle cx="262.6" cy="366.4" r="3.25" fill="#F8766D" fill-opacity="0.55"/>
<circle cx="270.7" cy="362.1" r="3.25" fill="#F8766D" fill-opacity="0.55"/>
<circle cx="277.2" cy="364.5" r="3.25" fill="#F8766D" fill-opacity="0.55"/>
<circle cx="277.6" cy="364.2" r="3.25" fill="#F8766D" fill-opacity="0.55"/>
<circle cx="291" cy="363.6" r="3.25" fill="#F8766D" fill-opacity="0.55"/>
<circle cx="323.8" cy="354.7" r="3.25" fill="#F8766D" fill-opacity="0.55"/>
<circle cx="273.8" cy="381" r="3.25" fill="#F8766D" fill-opacity="0.55"/>
<circle cx="312.9" cy="379.3" r="3.25" fill="#F8766D" fill-opacity="0.55"/>
<circle cx="249.5" cy="396.3" r="3.25" fill="#F8766D" fill-opacity="0.55"/>
</g>
<rect x="28" y="233" width="311" height="1" fill="#d0d0d0" shape-rendering="crispEdges"/>
<rect x="28" y="234" width="311" height="1" fill="#5a5a5a" shape-rendering="crispEdges"/>
<rect x="28" y="234" width="1" height="200" fill="#555" shape-rendering="crispEdges"/>
<rect x="338" y="234" width="1" height="200" fill="#666" shape-rendering="crispEdges"/>
<rect x="28" y="433" width="311" height="1" fill="#505050" shape-rendering="crispEdges"/>
<line x1="42.3" y1="433.2" x2="42.3" y2="436.2" stroke="#333" stroke-width="1.1"/>
<text transform="translate(42.3,447.6) scale(1,1.08)" font-size="11" fill="#4d4d4d" stroke="#4d4d4d" stroke-width="0.22" text-anchor="middle">0</text>
<line x1="107.8" y1="433.2" x2="107.8" y2="436.2" stroke="#333" stroke-width="1.1"/>
<text transform="translate(107.8,447.6) scale(1,1.08)" font-size="11" fill="#4d4d4d" stroke="#4d4d4d" stroke-width="0.22" text-anchor="middle">100</text>
<line x1="173.3" y1="433.2" x2="173.3" y2="436.2" stroke="#333" stroke-width="1.1"/>
<text transform="translate(173.3,447.6) scale(1,1.08)" font-size="11" fill="#4d4d4d" stroke="#4d4d4d" stroke-width="0.22" text-anchor="middle">200</text>
<line x1="238.8" y1="433.2" x2="238.8" y2="436.2" stroke="#333" stroke-width="1.1"/>
<text transform="translate(238.8,447.6) scale(1,1.08)" font-size="11" fill="#4d4d4d" stroke="#4d4d4d" stroke-width="0.22" text-anchor="middle">300</text>
<line x1="304.3" y1="433.2" x2="304.3" y2="436.2" stroke="#333" stroke-width="1.1"/>
<text transform="translate(304.3,447.6) scale(1,1.08)" font-size="11" fill="#4d4d4d" stroke="#4d4d4d" stroke-width="0.22" text-anchor="middle">400</text>
<line x1="25.4" y1="248" x2="28.4" y2="248" stroke="#333" stroke-width="1.1"/>
<text transform="translate(23.4,248) scale(1,1.08)" y="4.32" font-size="11" fill="#4d4d4d" stroke="#4d4d4d" stroke-width="0.22" text-anchor="end">4</text>
<line x1="25.4" y1="272.6" x2="28.4" y2="272.6" stroke="#333" stroke-width="1.1"/>
<text transform="translate(23.4,272.6) scale(1,1.08)" y="4.32" font-size="11" fill="#4d4d4d" stroke="#4d4d4d" stroke-width="0.22" text-anchor="end">3</text>
<line x1="25.4" y1="297.1" x2="28.4" y2="297.1" stroke="#333" stroke-width="1.1"/>
<text transform="translate(23.4,297.1) scale(1,1.08)" y="4.32" font-size="11" fill="#4d4d4d" stroke="#4d4d4d" stroke-width="0.22" text-anchor="end">2</text>
<line x1="25.4" y1="321.7" x2="28.4" y2="321.7" stroke="#333" stroke-width="1.1"/>
<text transform="translate(23.4,321.7) scale(1,1.08)" y="4.32" font-size="11" fill="#4d4d4d" stroke="#4d4d4d" stroke-width="0.22" text-anchor="end">1</text>
<line x1="25.4" y1="346.2" x2="28.4" y2="346.2" stroke="#333" stroke-width="1.1"/>
<text transform="translate(23.4,346.2) scale(1,1.08)" y="4.32" font-size="11" fill="#4d4d4d" stroke="#4d4d4d" stroke-width="0.22" text-anchor="end">0</text>
<line x1="25.4" y1="370.7" x2="28.4" y2="370.7" stroke="#333" stroke-width="1.1"/>
<text transform="translate(23.4,370.7) scale(1,1.08)" y="4.32" font-size="11" fill="#4d4d4d" stroke="#4d4d4d" stroke-width="0.22" text-anchor="end">-1</text>
<line x1="25.4" y1="395.3" x2="28.4" y2="395.3" stroke="#333" stroke-width="1.1"/>
<text transform="translate(23.4,395.3) scale(1,1.08)" y="4.32" font-size="11" fill="#4d4d4d" stroke="#4d4d4d" stroke-width="0.22" text-anchor="end">-2</text>
<line x1="25.4" y1="419.8" x2="28.4" y2="419.8" stroke="#333" stroke-width="1.1"/>
<text transform="translate(23.4,419.8) scale(1,1.08)" y="4.32" font-size="11" fill="#4d4d4d" stroke="#4d4d4d" stroke-width="0.22" text-anchor="end">-3</text>
<text x="182.8" y="462" font-size="11.1" font-weight="bold" fill="#000" text-anchor="middle">Population predicted concentration (ng/mL)</text>
<text transform="translate(9.9,334.4) rotate(-90)" font-size="11.1" font-weight="bold" fill="#000" text-anchor="middle">Conditional weighted residuals</text>
<clipPath id="cp4"><rect x="373.4" y="234.4" width="310" height="198.9"/></clipPath>
<g clip-path="url(#cp4)">
<line x1="373.4" y1="333.4" x2="683.4" y2="333.4" stroke="#808080" stroke-width="1.1"/>
<polyline points="387.3,334.6 418,334.3 465,332.8 545,332 551,331.1 583,330.5 620,330.1 652,329.3 669,329.1" fill="none" stroke="#000" stroke-width="1.3"/>
<circle cx="395.6" cy="300.8" r="3.25" fill="#F8766D" fill-opacity="0.55"/>
<circle cx="389.6" cy="303.8" r="3.25" fill="#F8766D" fill-opacity="0.55"/>
<circle cx="412.2" cy="300" r="3.25" fill="#F8766D" fill-opacity="0.55"/>
<circle cx="436.3" cy="302.3" r="3.25" fill="#F8766D" fill-opacity="0.55"/>
<circle cx="444.6" cy="303" r="3.25" fill="#F8766D" fill-opacity="0.55"/>
<circle cx="449.9" cy="305.3" r="3.25" fill="#00BFC4" fill-opacity="0.55"/>
<circle cx="444.6" cy="306" r="3.25" fill="#F8766D" fill-opacity="0.55"/>
<circle cx="444" cy="306" r="3.25" fill="#00BFC4" fill-opacity="0.55"/>
<circle cx="431.8" cy="309.8" r="3.25" fill="#F8766D" fill-opacity="0.55"/>
<circle cx="440.1" cy="309" r="3.25" fill="#F8766D" fill-opacity="0.55"/>
<circle cx="445.4" cy="314.3" r="3.25" fill="#F8766D" fill-opacity="0.55"/>
<circle cx="456" cy="309.8" r="3.25" fill="#F8766D" fill-opacity="0.55"/>
<circle cx="460.5" cy="307.5" r="3.25" fill="#F8766D" fill-opacity="0.55"/>
<circle cx="463.5" cy="312.8" r="3.25" fill="#F8766D" fill-opacity="0.55"/>
<circle cx="470.3" cy="311.3" r="3.25" fill="#F8766D" fill-opacity="0.55"/>
<circle cx="395.6" cy="307.5" r="3.25" fill="#F8766D" fill-opacity="0.55"/>
<circle cx="399.4" cy="308.3" r="3.25" fill="#F8766D" fill-opacity="0.55"/>
<circle cx="403.2" cy="311.3" r="3.25" fill="#00BFC4" fill-opacity="0.55"/>
<circle cx="403.2" cy="311.3" r="3.25" fill="#F8766D" fill-opacity="0.55"/>
<circle cx="407.7" cy="309.8" r="3.25" fill="#F8766D" fill-opacity="0.55"/>
<circle cx="413" cy="311.3" r="3.25" fill="#00BFC4" fill-opacity="0.55"/>
<circle cx="416.7" cy="311.3" r="3.25" fill="#00BFC4" fill-opacity="0.55"/>
<circle cx="407.7" cy="315.1" r="3.25" fill="#00BFC4" fill-opacity="0.55"/>
<circle cx="395.6" cy="316.6" r="3.25" fill="#00BFC4" fill-opacity="0.55"/>
<circle cx="395.6" cy="316.6" r="3.25" fill="#F8766D" fill-opacity="0.55"/>
<circle cx="400.1" cy="316.6" r="3.25" fill="#00BFC4" fill-opacity="0.55"/>
<circle cx="404.7" cy="316.6" r="3.25" fill="#00BFC4" fill-opacity="0.55"/>
<circle cx="416.7" cy="318.9" r="3.25" fill="#00BFC4" fill-opacity="0.55"/>
<circle cx="427.3" cy="318.1" r="3.25" fill="#00BFC4" fill-opacity="0.55"/>
<circle cx="431.8" cy="318.9" r="3.25" fill="#F8766D" fill-opacity="0.55"/>
<circle cx="432.6" cy="321.1" r="3.25" fill="#F8766D" fill-opacity="0.55"/>
<circle cx="440.9" cy="318.1" r="3.25" fill="#00BFC4" fill-opacity="0.55"/>
<circle cx="451.4" cy="320.4" r="3.25" fill="#00BFC4" fill-opacity="0.55"/>
<circle cx="451.4" cy="320.4" r="3.25" fill="#F8766D" fill-opacity="0.55"/>
<circle cx="460.5" cy="318.9" r="3.25" fill="#F8766D" fill-opacity="0.55"/>
<circle cx="465" cy="318.9" r="3.25" fill="#F8766D" fill-opacity="0.55"/>
<circle cx="469.5" cy="322.6" r="3.25" fill="#F8766D" fill-opacity="0.55"/>
<circle cx="398.6" cy="321.1" r="3.25" fill="#00BFC4" fill-opacity="0.55"/>
<circle cx="403.2" cy="324.1" r="3.25" fill="#F8766D" fill-opacity="0.55"/>
<circle cx="411.5" cy="324.1" r="3.25" fill="#F8766D" fill-opacity="0.55"/>
<circle cx="395.6" cy="327.1" r="3.25" fill="#F8766D" fill-opacity="0.55"/>
<circle cx="395.6" cy="330.2" r="3.25" fill="#F8766D" fill-opacity="0.55"/>
<circle cx="407.7" cy="330.2" r="3.25" fill="#00BFC4" fill-opacity="0.55"/>
<circle cx="419.8" cy="326.4" r="3.25" fill="#F8766D" fill-opacity="0.55"/>
<circle cx="428.1" cy="327.1" r="3.25" fill="#F8766D" fill-opacity="0.55"/>
<circle cx="436.3" cy="328.7" r="3.25" fill="#00BFC4" fill-opacity="0.55"/>
<circle cx="436.3" cy="328.7" r="3.25" fill="#F8766D" fill-opacity="0.55"/>
<circle cx="444.6" cy="327.9" r="3.25" fill="#00BFC4" fill-opacity="0.55"/>
<circle cx="448.4" cy="324.9" r="3.25" fill="#F8766D" fill-opacity="0.55"/>
<circle cx="457.5" cy="326.4" r="3.25" fill="#F8766D" fill-opacity="0.55"/>
<circle cx="460.5" cy="328.7" r="3.25" fill="#00BFC4" fill-opacity="0.55"/>
<circle cx="460.5" cy="328.7" r="3.25" fill="#F8766D" fill-opacity="0.55"/>
<circle cx="466.5" cy="327.9" r="3.25" fill="#F8766D" fill-opacity="0.55"/>
<circle cx="471" cy="326.4" r="3.25" fill="#00BFC4" fill-opacity="0.55"/>
<circle cx="471" cy="326.4" r="3.25" fill="#F8766D" fill-opacity="0.55"/>
<circle cx="391.1" cy="333.2" r="3.25" fill="#F8766D" fill-opacity="0.55"/>
<circle cx="403.2" cy="333.9" r="3.25" fill="#00BFC4" fill-opacity="0.55"/>
<circle cx="403.2" cy="333.9" r="3.25" fill="#F8766D" fill-opacity="0.55"/>
<circle cx="416" cy="333.9" r="3.25" fill="#F8766D" fill-opacity="0.55"/>
<circle cx="409.2" cy="331.7" r="3.25" fill="#F8766D" fill-opacity="0.55"/>
<circle cx="395.6" cy="336.2" r="3.25" fill="#F8766D" fill-opacity="0.55"/>
<circle cx="399.4" cy="338.5" r="3.25" fill="#F8766D" fill-opacity="0.55"/>
<circle cx="407.7" cy="338.5" r="3.25" fill="#F8766D" fill-opacity="0.55"/>
<circle cx="412.2" cy="339.2" r="3.25" fill="#F8766D" fill-opacity="0.55"/>
<circle cx="418.2" cy="336.2" r="3.25" fill="#00BFC4" fill-opacity="0.55"/>
<circle cx="422.8" cy="339.2" r="3.25" fill="#F8766D" fill-opacity="0.55"/>
<circle cx="428.8" cy="340" r="3.25" fill="#00BFC4" fill-opacity="0.55"/>
<circle cx="432.6" cy="337.7" r="3.25" fill="#00BFC4" fill-opacity="0.55"/>
<circle cx="437.9" cy="342.2" r="3.25" fill="#00BFC4" fill-opacity="0.55"/>
<circle cx="437.9" cy="342.2" r="3.25" fill="#F8766D" fill-opacity="0.55"/>
<circle cx="443.9" cy="336.2" r="3.25" fill="#F8766D" fill-opacity="0.55"/>
<circle cx="445.4" cy="342.2" r="3.25" fill="#00BFC4" fill-opacity="0.55"/>
<circle cx="448.4" cy="345.2" r="3.25" fill="#F8766D" fill-opacity="0.55"/>
<circle cx="452.9" cy="342.2" r="3.25" fill="#F8766D" fill-opacity="0.55"/>
<circle cx="456" cy="345.2" r="3.25" fill="#F8766D" fill-opacity="0.55"/>
<circle cx="460.5" cy="339.2" r="3.25" fill="#00BFC4" fill-opacity="0.55"/>
<circle cx="460.5" cy="339.2" r="3.25" fill="#F8766D" fill-opacity="0.55"/>
<circle cx="465" cy="343.7" r="3.25" fill="#F8766D" fill-opacity="0.55"/>
<circle cx="469.5" cy="343.7" r="3.25" fill="#F8766D" fill-opacity="0.55"/>
<circle cx="466.5" cy="337.7" r="3.25" fill="#00BFC4" fill-opacity="0.55"/>
<circle cx="397.1" cy="343.7" r="3.25" fill="#F8766D" fill-opacity="0.55"/>
<circle cx="400.1" cy="342.2" r="3.25" fill="#00BFC4" fill-opacity="0.55"/>
<circle cx="406.9" cy="344.5" r="3.25" fill="#F8766D" fill-opacity="0.55"/>
<circle cx="416" cy="346.8" r="3.25" fill="#F8766D" fill-opacity="0.55"/>
<circle cx="412.2" cy="343.7" r="3.25" fill="#00BFC4" fill-opacity="0.55"/>
<circle cx="403.2" cy="351.3" r="3.25" fill="#00BFC4" fill-opacity="0.55"/>
<circle cx="403.2" cy="351.3" r="3.25" fill="#F8766D" fill-opacity="0.55"/>
<circle cx="395.6" cy="348.3" r="3.25" fill="#F8766D" fill-opacity="0.55"/>
<circle cx="397.1" cy="352.8" r="3.25" fill="#00BFC4" fill-opacity="0.55"/>
<circle cx="407.7" cy="352.8" r="3.25" fill="#F8766D" fill-opacity="0.55"/>
<circle cx="416.7" cy="352.8" r="3.25" fill="#00BFC4" fill-opacity="0.55"/>
<circle cx="416.7" cy="352.8" r="3.25" fill="#F8766D" fill-opacity="0.55"/>
<circle cx="423.5" cy="352.8" r="3.25" fill="#00BFC4" fill-opacity="0.55"/>
<circle cx="428.8" cy="352.8" r="3.25" fill="#00BFC4" fill-opacity="0.55"/>
<circle cx="428.8" cy="352.8" r="3.25" fill="#F8766D" fill-opacity="0.55"/>
<circle cx="432.6" cy="351.3" r="3.25" fill="#00BFC4" fill-opacity="0.55"/>
<circle cx="436.3" cy="352.8" r="3.25" fill="#F8766D" fill-opacity="0.55"/>
<circle cx="443.9" cy="349.8" r="3.25" fill="#00BFC4" fill-opacity="0.55"/>
<circle cx="445.4" cy="351.3" r="3.25" fill="#00BFC4" fill-opacity="0.55"/>
<circle cx="440.9" cy="355.8" r="3.25" fill="#F8766D" fill-opacity="0.55"/>
<circle cx="444.6" cy="355.8" r="3.25" fill="#F8766D" fill-opacity="0.55"/>
<circle cx="451.4" cy="351.3" r="3.25" fill="#F8766D" fill-opacity="0.55"/>
<circle cx="457.5" cy="355.8" r="3.25" fill="#F8766D" fill-opacity="0.55"/>
<circle cx="462" cy="352.8" r="3.25" fill="#F8766D" fill-opacity="0.55"/>
<circle cx="465" cy="351.3" r="3.25" fill="#00BFC4" fill-opacity="0.55"/>
<circle cx="468" cy="355.8" r="3.25" fill="#F8766D" fill-opacity="0.55"/>
<circle cx="391.1" cy="357.3" r="3.25" fill="#F8766D" fill-opacity="0.55"/>
<circle cx="407.7" cy="358.1" r="3.25" fill="#F8766D" fill-opacity="0.55"/>
<circle cx="424.3" cy="358.1" r="3.25" fill="#F8766D" fill-opacity="0.55"/>
<circle cx="436.3" cy="360.3" r="3.25" fill="#F8766D" fill-opacity="0.55"/>
<circle cx="416.7" cy="360.3" r="3.25" fill="#F8766D" fill-opacity="0.55"/>
<circle cx="407.7" cy="363.3" r="3.25" fill="#00BFC4" fill-opacity="0.55"/>
<circle cx="416.7" cy="364.9" r="3.25" fill="#00BFC4" fill-opacity="0.55"/>
<circle cx="444.6" cy="364.9" r="3.25" fill="#00BFC4" fill-opacity="0.55"/>
<circle cx="457.5" cy="360.3" r="3.25" fill="#F8766D" fill-opacity="0.55"/>
<circle cx="395.6" cy="368.6" r="3.25" fill="#F8766D" fill-opacity="0.55"/>
<circle cx="403.2" cy="369.4" r="3.25" fill="#F8766D" fill-opacity="0.55"/>
<circle cx="389.6" cy="257.7" r="3.25" fill="#F8766D" fill-opacity="0.55"/>
<circle cx="387.3" cy="285.3" r="3.25" fill="#00BFC4" fill-opacity="0.55"/>
<circle cx="388.1" cy="287.5" r="3.25" fill="#00BFC4" fill-opacity="0.55"/>
<circle cx="399.4" cy="288.3" r="3.25" fill="#00BFC4" fill-opacity="0.55"/>
<circle cx="395.6" cy="297.3" r="3.25" fill="#F8766D" fill-opacity="0.55"/>
<circle cx="395.6" cy="299.6" r="3.25" fill="#00BFC4" fill-opacity="0.55"/>
<circle cx="395.6" cy="299.6" r="3.25" fill="#F8766D" fill-opacity="0.55"/>
<circle cx="387.3" cy="300.4" r="3.25" fill="#00BFC4" fill-opacity="0.55"/>
<circle cx="411.9" cy="298.1" r="3.25" fill="#F8766D" fill-opacity="0.55"/>
<circle cx="420.2" cy="294.3" r="3.25" fill="#F8766D" fill-opacity="0.55"/>
<circle cx="448" cy="280" r="3.25" fill="#F8766D" fill-opacity="0.55"/>
<circle cx="444.6" cy="290.6" r="3.25" fill="#F8766D" fill-opacity="0.55"/>
<circle cx="445.1" cy="293.6" r="3.25" fill="#00BFC4" fill-opacity="0.55"/>
<circle cx="440.1" cy="295.8" r="3.25" fill="#F8766D" fill-opacity="0.55"/>
<circle cx="471.8" cy="281.5" r="3.25" fill="#F8766D" fill-opacity="0.55"/>
<circle cx="471.8" cy="294.3" r="3.25" fill="#F8766D" fill-opacity="0.55"/>
<circle cx="392.1" cy="366.5" r="3.25" fill="#00BFC4" fill-opacity="0.55"/>
<circle cx="395.7" cy="370.1" r="3.25" fill="#F8766D" fill-opacity="0.55"/>
<circle cx="399.4" cy="371.6" r="3.25" fill="#00BFC4" fill-opacity="0.55"/>
<circle cx="403.8" cy="370.9" r="3.25" fill="#F8766D" fill-opacity="0.55"/>
<circle cx="395.7" cy="375.6" r="3.25" fill="#F8766D" fill-opacity="0.55"/>
<circle cx="388.8" cy="384.1" r="3.25" fill="#00BFC4" fill-opacity="0.55"/>
<circle cx="395.7" cy="388.8" r="3.25" fill="#F8766D" fill-opacity="0.55"/>
<circle cx="400.1" cy="391.7" r="3.25" fill="#00BFC4" fill-opacity="0.55"/>
<circle cx="416.7" cy="385.2" r="3.25" fill="#00BFC4" fill-opacity="0.55"/>
<circle cx="428" cy="390.2" r="3.25" fill="#00BFC4" fill-opacity="0.55"/>
<circle cx="444.6" cy="372" r="3.25" fill="#00BFC4" fill-opacity="0.55"/>
<circle cx="471.5" cy="370.6" r="3.25" fill="#00BFC4" fill-opacity="0.55"/>
<circle cx="387.2" cy="358.8" r="3.25" fill="#00BFC4" fill-opacity="0.55"/>
<circle cx="388.5" cy="327.7" r="3.25" fill="#00BFC4" fill-opacity="0.55"/>
<circle cx="387.1" cy="308.6" r="3.25" fill="#00BFC4" fill-opacity="0.55"/>
<circle cx="388.1" cy="330.8" r="3.25" fill="#00BFC4" fill-opacity="0.55"/>
<circle cx="387.2" cy="302.4" r="3.25" fill="#00BFC4" fill-opacity="0.55"/>
<circle cx="387.2" cy="316.6" r="3.25" fill="#00BFC4" fill-opacity="0.55"/>
<circle cx="389.4" cy="343.2" r="3.25" fill="#00BFC4" fill-opacity="0.55"/>
<circle cx="389" cy="298.8" r="3.25" fill="#00BFC4" fill-opacity="0.55"/>
<circle cx="390.3" cy="340.5" r="3.25" fill="#00BFC4" fill-opacity="0.55"/>
<circle cx="388" cy="337.9" r="3.25" fill="#00BFC4" fill-opacity="0.55"/>
<circle cx="388.3" cy="331.9" r="3.25" fill="#00BFC4" fill-opacity="0.55"/>
<circle cx="388.3" cy="300" r="3.25" fill="#00BFC4" fill-opacity="0.55"/>
<circle cx="388.4" cy="298" r="3.25" fill="#00BFC4" fill-opacity="0.55"/>
<circle cx="388.8" cy="327.5" r="3.25" fill="#00BFC4" fill-opacity="0.55"/>
<circle cx="386.8" cy="331.3" r="3.25" fill="#00BFC4" fill-opacity="0.55"/>
<circle cx="388.8" cy="339.5" r="3.25" fill="#00BFC4" fill-opacity="0.55"/>
<circle cx="387" cy="327.1" r="3.25" fill="#00BFC4" fill-opacity="0.55"/>
<circle cx="388.2" cy="314.9" r="3.25" fill="#00BFC4" fill-opacity="0.55"/>
<circle cx="390.8" cy="353.1" r="3.25" fill="#00BFC4" fill-opacity="0.55"/>
<circle cx="388.2" cy="344.1" r="3.25" fill="#00BFC4" fill-opacity="0.55"/>
<circle cx="388" cy="315.7" r="3.25" fill="#00BFC4" fill-opacity="0.55"/>
<circle cx="388.7" cy="300.8" r="3.25" fill="#00BFC4" fill-opacity="0.55"/>
<circle cx="388.3" cy="353.6" r="3.25" fill="#00BFC4" fill-opacity="0.55"/>
<circle cx="387.4" cy="322.3" r="3.25" fill="#00BFC4" fill-opacity="0.55"/>
<circle cx="389.7" cy="296" r="3.25" fill="#00BFC4" fill-opacity="0.55"/>
<circle cx="387.8" cy="310.3" r="3.25" fill="#00BFC4" fill-opacity="0.55"/>
<circle cx="389" cy="362.7" r="3.25" fill="#00BFC4" fill-opacity="0.55"/>
<circle cx="387.7" cy="323" r="3.25" fill="#00BFC4" fill-opacity="0.55"/>
<circle cx="389.2" cy="348.9" r="3.25" fill="#00BFC4" fill-opacity="0.55"/>
<circle cx="388.7" cy="314.3" r="3.25" fill="#00BFC4" fill-opacity="0.55"/>
<circle cx="388.8" cy="361.6" r="3.25" fill="#00BFC4" fill-opacity="0.55"/>
<circle cx="388.6" cy="347.5" r="3.25" fill="#00BFC4" fill-opacity="0.55"/>
<circle cx="388.6" cy="302.9" r="3.25" fill="#00BFC4" fill-opacity="0.55"/>
<circle cx="388.6" cy="300.1" r="3.25" fill="#00BFC4" fill-opacity="0.55"/>
<circle cx="388.3" cy="334" r="3.25" fill="#00BFC4" fill-opacity="0.55"/>
<circle cx="387.7" cy="326.4" r="3.25" fill="#00BFC4" fill-opacity="0.55"/>
<circle cx="388.7" cy="304.9" r="3.25" fill="#00BFC4" fill-opacity="0.55"/>
<circle cx="389.4" cy="339.8" r="3.25" fill="#00BFC4" fill-opacity="0.55"/>
<circle cx="388.8" cy="310.5" r="3.25" fill="#00BFC4" fill-opacity="0.55"/>
<circle cx="388.8" cy="314.3" r="3.25" fill="#00BFC4" fill-opacity="0.55"/>
<circle cx="389.6" cy="316.7" r="3.25" fill="#00BFC4" fill-opacity="0.55"/>
<circle cx="387.9" cy="356.2" r="3.25" fill="#00BFC4" fill-opacity="0.55"/>
<circle cx="388.5" cy="366" r="3.25" fill="#00BFC4" fill-opacity="0.55"/>
<circle cx="387.3" cy="369" r="3.25" fill="#00BFC4" fill-opacity="0.55"/>
<circle cx="389.5" cy="376.5" r="3.25" fill="#00BFC4" fill-opacity="0.55"/>
<circle cx="389.1" cy="379.5" r="3.25" fill="#00BFC4" fill-opacity="0.55"/>
<circle cx="476.8" cy="302.2" r="3.25" fill="#F8766D" fill-opacity="0.55"/>
<circle cx="525.6" cy="291.7" r="3.25" fill="#F8766D" fill-opacity="0.55"/>
<circle cx="500.9" cy="298" r="3.25" fill="#F8766D" fill-opacity="0.55"/>
<circle cx="505.4" cy="302.2" r="3.25" fill="#F8766D" fill-opacity="0.55"/>
<circle cx="489.1" cy="303" r="3.25" fill="#00BFC4" fill-opacity="0.55"/>
<circle cx="493.7" cy="307.1" r="3.25" fill="#F8766D" fill-opacity="0.55"/>
<circle cx="496.7" cy="311.3" r="3.25" fill="#00BFC4" fill-opacity="0.55"/>
<circle cx="501.2" cy="309" r="3.25" fill="#F8766D" fill-opacity="0.55"/>
<circle cx="509.5" cy="308" r="3.25" fill="#00BFC4" fill-opacity="0.55"/>
<circle cx="529.9" cy="305" r="3.25" fill="#00BFC4" fill-opacity="0.55"/>
<circle cx="529.9" cy="315.8" r="3.25" fill="#00BFC4" fill-opacity="0.55"/>
<circle cx="525.3" cy="320.3" r="3.25" fill="#00BFC4" fill-opacity="0.55"/>
<circle cx="538.2" cy="322.3" r="3.25" fill="#F8766D" fill-opacity="0.55"/>
<circle cx="472.5" cy="313.5" r="3.25" fill="#00BFC4" fill-opacity="0.55"/>
<circle cx="472.5" cy="313.5" r="3.25" fill="#F8766D" fill-opacity="0.55"/>
<circle cx="472.5" cy="316.6" r="3.25" fill="#00BFC4" fill-opacity="0.55"/>
<circle cx="472.5" cy="321.5" r="3.25" fill="#00BFC4" fill-opacity="0.55"/>
<circle cx="472.5" cy="321.5" r="3.25" fill="#F8766D" fill-opacity="0.55"/>
<circle cx="480.8" cy="318.1" r="3.25" fill="#F8766D" fill-opacity="0.55"/>
<circle cx="485.4" cy="317.6" r="3.25" fill="#F8766D" fill-opacity="0.55"/>
<circle cx="493.7" cy="317.3" r="3.25" fill="#00BFC4" fill-opacity="0.55"/>
<circle cx="493.7" cy="319.1" r="3.25" fill="#00BFC4" fill-opacity="0.55"/>
<circle cx="493.7" cy="319.1" r="3.25" fill="#F8766D" fill-opacity="0.55"/>
<circle cx="496.7" cy="321.8" r="3.25" fill="#00BFC4" fill-opacity="0.55"/>
<circle cx="505" cy="320.3" r="3.25" fill="#F8766D" fill-opacity="0.55"/>
<circle cx="505.7" cy="323.3" r="3.25" fill="#F8766D" fill-opacity="0.55"/>
<circle cx="510.2" cy="324.9" r="3.25" fill="#F8766D" fill-opacity="0.55"/>
<circle cx="513.6" cy="317.6" r="3.25" fill="#F8766D" fill-opacity="0.55"/>
<circle cx="501.2" cy="326.4" r="3.25" fill="#00BFC4" fill-opacity="0.55"/>
<circle cx="480.8" cy="326.4" r="3.25" fill="#F8766D" fill-opacity="0.55"/>
<circle cx="489.1" cy="326.4" r="3.25" fill="#00BFC4" fill-opacity="0.55"/>
<circle cx="489.1" cy="326.4" r="3.25" fill="#F8766D" fill-opacity="0.55"/>
<circle cx="514.8" cy="327.9" r="3.25" fill="#F8766D" fill-opacity="0.55"/>
<circle cx="525.3" cy="328.6" r="3.25" fill="#F8766D" fill-opacity="0.55"/>
<circle cx="522.3" cy="328.6" r="3.25" fill="#00BFC4" fill-opacity="0.55"/>
<circle cx="529.9" cy="328.6" r="3.25" fill="#00BFC4" fill-opacity="0.55"/>
<circle cx="541.9" cy="329.4" r="3.25" fill="#00BFC4" fill-opacity="0.55"/>
<circle cx="541.9" cy="329.4" r="3.25" fill="#F8766D" fill-opacity="0.55"/>
<circle cx="557.8" cy="323.3" r="3.25" fill="#00BFC4" fill-opacity="0.55"/>
<circle cx="558.5" cy="326.4" r="3.25" fill="#00BFC4" fill-opacity="0.55"/>
<circle cx="466.5" cy="323.3" r="3.25" fill="#00BFC4" fill-opacity="0.55"/>
<circle cx="466.5" cy="323.3" r="3.25" fill="#F8766D" fill-opacity="0.55"/>
<circle cx="474" cy="326.4" r="3.25" fill="#00BFC4" fill-opacity="0.55"/>
<circle cx="472.5" cy="328" r="3.25" fill="#00BFC4" fill-opacity="0.55"/>
<circle cx="487.6" cy="326.5" r="3.25" fill="#F8766D" fill-opacity="0.55"/>
<circle cx="492.1" cy="329.5" r="3.25" fill="#F8766D" fill-opacity="0.55"/>
<circle cx="501.2" cy="332.5" r="3.25" fill="#00BFC4" fill-opacity="0.55"/>
<circle cx="510.2" cy="329.5" r="3.25" fill="#00BFC4" fill-opacity="0.55"/>
<circle cx="510.2" cy="329.5" r="3.25" fill="#F8766D" fill-opacity="0.55"/>
<circle cx="513.3" cy="327.3" r="3.25" fill="#F8766D" fill-opacity="0.55"/>
<circle cx="522.3" cy="329.5" r="3.25" fill="#F8766D" fill-opacity="0.55"/>
<circle cx="525.3" cy="335.6" r="3.25" fill="#00BFC4" fill-opacity="0.55"/>
<circle cx="529.9" cy="334.8" r="3.25" fill="#00BFC4" fill-opacity="0.55"/>
<circle cx="538.2" cy="333.3" r="3.25" fill="#00BFC4" fill-opacity="0.55"/>
<circle cx="550.2" cy="340.8" r="3.25" fill="#F8766D" fill-opacity="0.55"/>
<circle cx="557" cy="328" r="3.25" fill="#00BFC4" fill-opacity="0.55"/>
<circle cx="534.4" cy="343.1" r="3.25" fill="#00BFC4" fill-opacity="0.55"/>
<circle cx="538.2" cy="343.9" r="3.25" fill="#00BFC4" fill-opacity="0.55"/>
<circle cx="525.3" cy="346.1" r="3.25" fill="#F8766D" fill-opacity="0.55"/>
<circle cx="529.9" cy="346.1" r="3.25" fill="#00BFC4" fill-opacity="0.55"/>
<circle cx="529.9" cy="346.1" r="3.25" fill="#F8766D" fill-opacity="0.55"/>
<circle cx="529.9" cy="350.6" r="3.25" fill="#00BFC4" fill-opacity="0.55"/>
<circle cx="517.8" cy="355.9" r="3.25" fill="#F8766D" fill-opacity="0.55"/>
<circle cx="522.3" cy="359.7" r="3.25" fill="#F8766D" fill-opacity="0.55"/>
<circle cx="529.6" cy="359.7" r="3.25" fill="#F8766D" fill-opacity="0.55"/>
<circle cx="534.1" cy="357.4" r="3.25" fill="#F8766D" fill-opacity="0.55"/>
<circle cx="529.6" cy="375.5" r="3.25" fill="#F8766D" fill-opacity="0.55"/>
<circle cx="472.5" cy="336.3" r="3.25" fill="#00BFC4" fill-opacity="0.55"/>
<circle cx="471.8" cy="340.1" r="3.25" fill="#00BFC4" fill-opacity="0.55"/>
<circle cx="471.8" cy="340.1" r="3.25" fill="#F8766D" fill-opacity="0.55"/>
<circle cx="480.1" cy="338.6" r="3.25" fill="#00BFC4" fill-opacity="0.55"/>
<circle cx="484.6" cy="340.1" r="3.25" fill="#F8766D" fill-opacity="0.55"/>
<circle cx="489.1" cy="335.6" r="3.25" fill="#00BFC4" fill-opacity="0.55"/>
<circle cx="489.1" cy="335.6" r="3.25" fill="#F8766D" fill-opacity="0.55"/>
<circle cx="492.9" cy="339.3" r="3.25" fill="#00BFC4" fill-opacity="0.55"/>
<circle cx="492.9" cy="339.3" r="3.25" fill="#F8766D" fill-opacity="0.55"/>
<circle cx="497.4" cy="335.6" r="3.25" fill="#F8766D" fill-opacity="0.55"/>
<circle cx="501.2" cy="340.1" r="3.25" fill="#00BFC4" fill-opacity="0.55"/>
<circle cx="501.2" cy="340.1" r="3.25" fill="#F8766D" fill-opacity="0.55"/>
<circle cx="505.7" cy="337.1" r="3.25" fill="#F8766D" fill-opacity="0.55"/>
<circle cx="508.7" cy="337.1" r="3.25" fill="#00BFC4" fill-opacity="0.55"/>
<circle cx="513.3" cy="338.6" r="3.25" fill="#F8766D" fill-opacity="0.55"/>
<circle cx="517.8" cy="337.8" r="3.25" fill="#F8766D" fill-opacity="0.55"/>
<circle cx="468" cy="346.1" r="3.25" fill="#F8766D" fill-opacity="0.55"/>
<circle cx="469.5" cy="341.6" r="3.25" fill="#F8766D" fill-opacity="0.55"/>
<circle cx="477.1" cy="342.3" r="3.25" fill="#F8766D" fill-opacity="0.55"/>
<circle cx="480.8" cy="346.9" r="3.25" fill="#F8766D" fill-opacity="0.55"/>
<circle cx="489.1" cy="345.4" r="3.25" fill="#F8766D" fill-opacity="0.55"/>
<circle cx="496.7" cy="343.1" r="3.25" fill="#F8766D" fill-opacity="0.55"/>
<circle cx="501.2" cy="344.6" r="3.25" fill="#F8766D" fill-opacity="0.55"/>
<circle cx="496.7" cy="347.6" r="3.25" fill="#F8766D" fill-opacity="0.55"/>
<circle cx="501.2" cy="349.1" r="3.25" fill="#F8766D" fill-opacity="0.55"/>
<circle cx="506.5" cy="343.9" r="3.25" fill="#F8766D" fill-opacity="0.55"/>
<circle cx="510.2" cy="347.6" r="3.25" fill="#F8766D" fill-opacity="0.55"/>
<circle cx="514" cy="343.1" r="3.25" fill="#F8766D" fill-opacity="0.55"/>
<circle cx="509.5" cy="352.1" r="3.25" fill="#F8766D" fill-opacity="0.55"/>
<circle cx="501.2" cy="352.9" r="3.25" fill="#F8766D" fill-opacity="0.55"/>
<circle cx="472.5" cy="352.9" r="3.25" fill="#00BFC4" fill-opacity="0.55"/>
<circle cx="468.8" cy="355.9" r="3.25" fill="#00BFC4" fill-opacity="0.55"/>
<circle cx="471.8" cy="357.4" r="3.25" fill="#00BFC4" fill-opacity="0.55"/>
<circle cx="476.3" cy="360.4" r="3.25" fill="#F8766D" fill-opacity="0.55"/>
<circle cx="480.8" cy="355.9" r="3.25" fill="#F8766D" fill-opacity="0.55"/>
<circle cx="480.8" cy="360.4" r="3.25" fill="#00BFC4" fill-opacity="0.55"/>
<circle cx="480.8" cy="360.4" r="3.25" fill="#F8766D" fill-opacity="0.55"/>
<circle cx="494.9" cy="355.2" r="3.25" fill="#00BFC4" fill-opacity="0.55"/>
<circle cx="496.7" cy="358.9" r="3.25" fill="#00BFC4" fill-opacity="0.55"/>
<circle cx="505" cy="363.9" r="3.25" fill="#00BFC4" fill-opacity="0.55"/>
<circle cx="484.9" cy="366.5" r="3.25" fill="#F8766D" fill-opacity="0.55"/>
<circle cx="500.9" cy="370.6" r="3.25" fill="#00BFC4" fill-opacity="0.55"/>
<circle cx="610.6" cy="287.7" r="3.25" fill="#00BFC4" fill-opacity="0.55"/>
<circle cx="640" cy="310.6" r="3.25" fill="#00BFC4" fill-opacity="0.55"/>
<circle cx="557.3" cy="326.4" r="3.25" fill="#00BFC4" fill-opacity="0.55"/>
<circle cx="669" cy="313.6" r="3.25" fill="#00BFC4" fill-opacity="0.55"/>
<circle cx="581.3" cy="352.6" r="3.25" fill="#00BFC4" fill-opacity="0.55"/>
<circle cx="390.9" cy="342.1" r="3.25" fill="#00BFC4" fill-opacity="0.55"/>
<circle cx="392.1" cy="328.7" r="3.25" fill="#00BFC4" fill-opacity="0.55"/>
<circle cx="391" cy="348.7" r="3.25" fill="#00BFC4" fill-opacity="0.55"/>
<circle cx="392.5" cy="330.8" r="3.25" fill="#00BFC4" fill-opacity="0.55"/>
<circle cx="391.8" cy="313.1" r="3.25" fill="#00BFC4" fill-opacity="0.55"/>
<circle cx="390.5" cy="321.7" r="3.25" fill="#00BFC4" fill-opacity="0.55"/>
<circle cx="392" cy="302.4" r="3.25" fill="#00BFC4" fill-opacity="0.55"/>
<circle cx="392.5" cy="312.9" r="3.25" fill="#00BFC4" fill-opacity="0.55"/>
<circle cx="391.1" cy="300.7" r="3.25" fill="#00BFC4" fill-opacity="0.55"/>
<circle cx="393" cy="345.3" r="3.25" fill="#00BFC4" fill-opacity="0.55"/>
<circle cx="392.7" cy="337.4" r="3.25" fill="#00BFC4" fill-opacity="0.55"/>
<circle cx="390.6" cy="319.1" r="3.25" fill="#00BFC4" fill-opacity="0.55"/>
</g>
<rect x="373" y="233" width="312" height="1" fill="#d0d0d0" shape-rendering="crispEdges"/>
<rect x="373" y="234" width="311" height="1" fill="#5a5a5a" shape-rendering="crispEdges"/>
<rect x="373" y="234" width="1" height="200" fill="#555" shape-rendering="crispEdges"/>
<rect x="683" y="234" width="1" height="200" fill="#6a6a6a" shape-rendering="crispEdges"/>
<rect x="684" y="234" width="1" height="200" fill="#b4b4b4" shape-rendering="crispEdges"/>
<rect x="373" y="433" width="311" height="1" fill="#505050" shape-rendering="crispEdges"/>
<line x1="387.3" y1="433.3" x2="387.3" y2="436.3" stroke="#333" stroke-width="1.1"/>
<text transform="translate(387.3,447.7) scale(1,1.08)" font-size="11" fill="#4d4d4d" stroke="#4d4d4d" stroke-width="0.22" text-anchor="middle">0</text>
<line x1="472.2" y1="433.3" x2="472.2" y2="436.3" stroke="#333" stroke-width="1.1"/>
<text transform="translate(472.2,447.7) scale(1,1.08)" font-size="11" fill="#4d4d4d" stroke="#4d4d4d" stroke-width="0.22" text-anchor="middle">500</text>
<line x1="557.1" y1="433.3" x2="557.1" y2="436.3" stroke="#333" stroke-width="1.1"/>
<text transform="translate(557.1,447.7) scale(1,1.08)" font-size="11" fill="#4d4d4d" stroke="#4d4d4d" stroke-width="0.22" text-anchor="middle">1000</text>
<line x1="642" y1="433.3" x2="642" y2="436.3" stroke="#333" stroke-width="1.1"/>
<text transform="translate(642,447.7) scale(1,1.08)" font-size="11" fill="#4d4d4d" stroke="#4d4d4d" stroke-width="0.22" text-anchor="middle">1500</text>
<line x1="370.4" y1="261.2" x2="373.4" y2="261.2" stroke="#333" stroke-width="1.1"/>
<text transform="translate(368.4,261.2) scale(1,1.08)" y="4.32" font-size="11" fill="#4d4d4d" stroke="#4d4d4d" stroke-width="0.22" text-anchor="end">4</text>
<line x1="370.4" y1="279.3" x2="373.4" y2="279.3" stroke="#333" stroke-width="1.1"/>
<text transform="translate(368.4,279.3) scale(1,1.08)" y="4.32" font-size="11" fill="#4d4d4d" stroke="#4d4d4d" stroke-width="0.22" text-anchor="end">3</text>
<line x1="370.4" y1="297.4" x2="373.4" y2="297.4" stroke="#333" stroke-width="1.1"/>
<text transform="translate(368.4,297.4) scale(1,1.08)" y="4.32" font-size="11" fill="#4d4d4d" stroke="#4d4d4d" stroke-width="0.22" text-anchor="end">2</text>
<line x1="370.4" y1="315.6" x2="373.4" y2="315.6" stroke="#333" stroke-width="1.1"/>
<text transform="translate(368.4,315.6) scale(1,1.08)" y="4.32" font-size="11" fill="#4d4d4d" stroke="#4d4d4d" stroke-width="0.22" text-anchor="end">1</text>
<line x1="370.4" y1="333.7" x2="373.4" y2="333.7" stroke="#333" stroke-width="1.1"/>
<text transform="translate(368.4,333.7) scale(1,1.08)" y="4.32" font-size="11" fill="#4d4d4d" stroke="#4d4d4d" stroke-width="0.22" text-anchor="end">0</text>
<line x1="370.4" y1="351.8" x2="373.4" y2="351.8" stroke="#333" stroke-width="1.1"/>
<text transform="translate(368.4,351.8) scale(1,1.08)" y="4.32" font-size="11" fill="#4d4d4d" stroke="#4d4d4d" stroke-width="0.22" text-anchor="end">-1</text>
<line x1="370.4" y1="369.9" x2="373.4" y2="369.9" stroke="#333" stroke-width="1.1"/>
<text transform="translate(368.4,369.9) scale(1,1.08)" y="4.32" font-size="11" fill="#4d4d4d" stroke="#4d4d4d" stroke-width="0.22" text-anchor="end">-2</text>
<line x1="370.4" y1="388.1" x2="373.4" y2="388.1" stroke="#333" stroke-width="1.1"/>
<text transform="translate(368.4,388.1) scale(1,1.08)" y="4.32" font-size="11" fill="#4d4d4d" stroke="#4d4d4d" stroke-width="0.22" text-anchor="end">-3</text>
<line x1="370.4" y1="406.2" x2="373.4" y2="406.2" stroke="#333" stroke-width="1.1"/>
<text transform="translate(368.4,406.2) scale(1,1.08)" y="4.32" font-size="11" fill="#4d4d4d" stroke="#4d4d4d" stroke-width="0.22" text-anchor="end">-4</text>
<text x="527.7" y="462.1" font-size="11.1" font-weight="bold" fill="#000" text-anchor="middle">Time (hour)</text>
<text transform="translate(354.3,334.5) rotate(-90)" font-size="11.1" font-weight="bold" fill="#000" text-anchor="middle">Conditional weighted residuals</text>
</svg></body></html>
